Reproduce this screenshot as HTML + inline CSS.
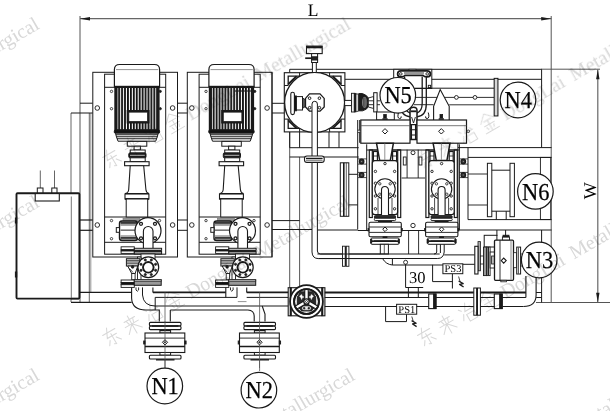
<!DOCTYPE html>
<html><head><meta charset="utf-8"><title>Layout</title>
<style>
html,body{margin:0;padding:0;background:#fff;}
svg{display:block;font-family:"Liberation Serif",serif;text-rendering:geometricPrecision;will-change:transform;}
</style></head><body>
<svg width="610" height="411" viewBox="0 0 610 411">
<defs>
<pattern id="fins" x="115.3" y="0" width="2.93" height="10" patternUnits="userSpaceOnUse"><rect x="0" y="0" width="1.85" height="10" fill="#111"/></pattern>
</defs>
<rect x="0" y="0" width="610" height="411" fill="#fff"/>
<line x1="80" y1="16" x2="80" y2="302" stroke="#555" stroke-width="1"/>
<line x1="551.2" y1="16" x2="551.2" y2="302.5" stroke="#555" stroke-width="1"/>
<line x1="80" y1="18.7" x2="551.5" y2="18.7" stroke="#666" stroke-width="1.2"/>
<path d="M80,18.7 L90,16.9 L90,20.5 Z" fill="#1a1a1a" stroke="#1a1a1a" stroke-width="0" />
<path d="M551.2,18.7 L541.2,16.9 L541.2,20.5 Z" fill="#1a1a1a" stroke="#1a1a1a" stroke-width="0" />
<text x="313" y="16.4" font-size="17.5" text-anchor="middle" opacity="0.99" >L</text>
<line x1="541" y1="69.2" x2="600" y2="69.2" stroke="#555" stroke-width="1"/>
<line x1="536" y1="302.5" x2="610" y2="302.5" stroke="#555" stroke-width="1"/>
<line x1="597.8" y1="69.5" x2="597.8" y2="302.5" stroke="#666" stroke-width="1.2"/>
<path d="M597.8,69.5 L596.1,79.3 L599.5,79.3 Z" fill="#1a1a1a" stroke="#1a1a1a" stroke-width="0" />
<path d="M597.8,302.5 L596.1,292.7 L599.5,292.7 Z" fill="#1a1a1a" stroke="#1a1a1a" stroke-width="0" />
<text transform="translate(596.2,190.8) rotate(-90)" font-size="18" text-anchor="middle">W</text>
<line x1="71" y1="113" x2="71" y2="302" stroke="#555" stroke-width="0.9"/>
<line x1="89.3" y1="113" x2="89.3" y2="302" stroke="#555" stroke-width="0.9"/>
<line x1="90.8" y1="113" x2="90.8" y2="292" stroke="#777" stroke-width="0.8"/>
<line x1="71" y1="113" x2="90.8" y2="113" stroke="#1a1a1a" stroke-width="1"/>
<line x1="80" y1="103.2" x2="92.8" y2="103.2" stroke="#1a1a1a" stroke-width="1"/>
<line x1="90.8" y1="113" x2="92.8" y2="113" stroke="#1a1a1a" stroke-width="1"/>
<line x1="79" y1="220" x2="92.8" y2="220" stroke="#1a1a1a" stroke-width="1.2"/>
<line x1="79" y1="230.3" x2="92.8" y2="230.3" stroke="#1a1a1a" stroke-width="1.2"/>
<line x1="79" y1="292.4" x2="131.6" y2="292.4" stroke="#1a1a1a" stroke-width="1.2"/>
<line x1="71" y1="302.3" x2="131.6" y2="302.3" stroke="#1a1a1a" stroke-width="1.2"/>
<line x1="40.3" y1="170.5" x2="40.3" y2="188" stroke="#555" stroke-width="0.9"/>
<line x1="54.5" y1="170.5" x2="54.5" y2="188" stroke="#555" stroke-width="0.9"/>
<rect x="37.3" y="188" width="5.7" height="5.6" rx="0" fill="#fff" stroke="#1a1a1a" stroke-width="1"/>
<rect x="51.8" y="188" width="5.2" height="5.6" rx="0" fill="#fff" stroke="#1a1a1a" stroke-width="1"/>
<rect x="16.5" y="193.3" width="62.9" height="105.3" rx="1" fill="#fff" stroke="#1a1a1a" stroke-width="1.9"/>
<line x1="71.3" y1="196.5" x2="71.3" y2="298" stroke="#666" stroke-width="0.9"/>
<rect x="35.2" y="193.6" width="24.1" height="7.4" rx="0" fill="#fff" stroke="#1a1a1a" stroke-width="1.1"/>
<rect x="15.4" y="218" width="1.3" height="5" rx="0" fill="#1a1a1a" stroke="#1a1a1a" stroke-width="1"/>
<rect x="15.4" y="272" width="1.3" height="5" rx="0" fill="#1a1a1a" stroke="#1a1a1a" stroke-width="1"/>
<line x1="71" y1="298.6" x2="79" y2="298.6" stroke="#1a1a1a" stroke-width="1.4"/>
<g transform="translate(0,0)">
<rect x="92.8" y="72.3" width="84.7" height="184.7" rx="0" fill="#fff" stroke="#1a1a1a" stroke-width="1"/>
<rect x="104.6" y="74.2" width="61.1" height="180.0" rx="0" fill="#fff" stroke="#1a1a1a" stroke-width="1"/>
<line x1="104.6" y1="217" x2="165.7" y2="217" stroke="#1a1a1a" stroke-width="1"/>
<line x1="104.6" y1="242.3" x2="165.7" y2="242.3" stroke="#1a1a1a" stroke-width="1"/>
<circle cx="97.3" cy="108" r="2.3" fill="#fff" stroke="#1a1a1a" stroke-width="0.9"/>
<circle cx="172.6" cy="108" r="2.3" fill="#fff" stroke="#1a1a1a" stroke-width="0.9"/>
<circle cx="97.3" cy="225" r="2.3" fill="#fff" stroke="#1a1a1a" stroke-width="0.9"/>
<circle cx="172.6" cy="225" r="2.3" fill="#fff" stroke="#1a1a1a" stroke-width="0.9"/>
<circle cx="111.5" cy="91.4" r="1.2" fill="#fff" stroke="#1a1a1a" stroke-width="0.8"/>
<circle cx="111.5" cy="108.7" r="1.2" fill="#fff" stroke="#1a1a1a" stroke-width="0.8"/>
<circle cx="111.5" cy="220.6" r="1.2" fill="#fff" stroke="#1a1a1a" stroke-width="0.8"/>
<circle cx="111.5" cy="238.7" r="1.2" fill="#fff" stroke="#1a1a1a" stroke-width="0.8"/>
<circle cx="159.5" cy="220.6" r="1.2" fill="#fff" stroke="#1a1a1a" stroke-width="0.8"/>
<path d="M114.4,86.5 V69.5 Q114.4,64.5 119.6,64.5 H154.4 Q159.6,64.5 159.6,69.5 V86.5 Z" fill="#fff" stroke="#1a1a1a" stroke-width="1.2" />
<line x1="116" y1="69.6" x2="158.3" y2="69.6" stroke="#777" stroke-width="0.8"/>
<line x1="104.6" y1="87.3" x2="115" y2="87.3" stroke="#1a1a1a" stroke-width="1"/>
<line x1="158.9" y1="87.3" x2="165.7" y2="87.3" stroke="#1a1a1a" stroke-width="1"/>
<rect x="115" y="86.5" width="43.9" height="43.5" rx="0" fill="#fff" stroke="none" stroke-width="0"/>
<rect x="115" y="86.5" width="43.9" height="43.5" fill="url(#fins)"/>
<rect x="115" y="86.5" width="43.9" height="43.5" rx="0" fill="none" stroke="#1a1a1a" stroke-width="1.4"/>
<line x1="114.5" y1="87.2" x2="159.8" y2="87.2" stroke="#1a1a1a" stroke-width="1.8"/>
<rect x="115" y="86.5" width="2.4" height="43.5" rx="0" fill="#1a1a1a" stroke="none" stroke-width="0"/>
<rect x="156.5" y="86.5" width="2.4" height="43.5" rx="0" fill="#1a1a1a" stroke="none" stroke-width="0"/>
<circle cx="160.3" cy="91.4" r="1.1" fill="#1a1a1a" stroke="#1a1a1a" stroke-width="0.8"/>
<circle cx="160.3" cy="108.7" r="1.1" fill="#1a1a1a" stroke="#1a1a1a" stroke-width="0.8"/>
<rect x="126.7" y="110" width="22.8" height="13.5" rx="0" fill="#1a1a1a" stroke="none" stroke-width="0"/>
<rect x="128.9" y="112.2" width="18.4" height="9.1" rx="0" fill="#fff" stroke="#1a1a1a" stroke-width="0.6"/>
<rect x="114.3" y="130" width="45.3" height="3.2" rx="1" fill="#111" stroke="#1a1a1a" stroke-width="1"/>
<path d="M115.5,133.2 L116.5,137 L118,141.2 H155.7 L157.2,137 L158.3,133.2 Z" fill="#fff" stroke="#1a1a1a" stroke-width="1" />
<line x1="115.8" y1="134.8" x2="158" y2="134.8" stroke="#1a1a1a" stroke-width="1.1"/>
<line x1="116.4" y1="136.8" x2="157.4" y2="136.8" stroke="#1a1a1a" stroke-width="1.1"/>
<line x1="117" y1="138.8" x2="156.8" y2="138.8" stroke="#1a1a1a" stroke-width="1.1"/>
<rect x="127.3" y="141.4" width="19.5" height="4.8" rx="0" fill="#fff" stroke="#1a1a1a" stroke-width="1"/>
<rect x="134.1" y="146.2" width="6.3" height="3.8" rx="0" fill="#fff" stroke="#1a1a1a" stroke-width="1"/>
<rect x="130.2" y="150" width="15.0" height="3" rx="0" fill="#fff" stroke="#1a1a1a" stroke-width="1"/>
<rect x="128.8" y="153" width="17.2" height="4.8" rx="1" fill="#1a1a1a" stroke="#1a1a1a" stroke-width="1"/>
<line x1="130" y1="155.3" x2="144.8" y2="155.3" stroke="#ddd" stroke-width="0.8"/>
<rect x="130.2" y="157.8" width="15.0" height="3.7" rx="0" fill="#fff" stroke="#1a1a1a" stroke-width="1"/>
<rect x="124.6" y="161.7" width="24.5" height="4.0" rx="0" fill="#fff" stroke="#1a1a1a" stroke-width="1.1"/>
<path d="M130.2,165.7 L128.7,189.5 Q128.4,193 125,193.6 H148.9 Q146.2,193 145.9,189.5 L143.7,165.7 Z" fill="#fff" stroke="#1a1a1a" stroke-width="1.1" />
<rect x="125" y="194" width="23.9" height="5" rx="0" fill="#fff" stroke="#1a1a1a" stroke-width="1.1"/>
<line x1="125" y1="199" x2="148.9" y2="199" stroke="#1a1a1a" stroke-width="1.6"/>
<rect x="126.2" y="199" width="21.5" height="18" rx="0" fill="#fff" stroke="#1a1a1a" stroke-width="1"/>
<rect x="123" y="218.2" width="17" height="2.6" rx="0" fill="#999" stroke="#777" stroke-width="0.6"/>
<rect x="119.5" y="221" width="18.0" height="19.5" rx="2.5" fill="#fff" stroke="#1a1a1a" stroke-width="1.4"/>
<line x1="120.5" y1="222.3" x2="137.5" y2="222.3" stroke="#222" stroke-width="1.2"/>
<line x1="120.5" y1="223.8" x2="137.5" y2="223.8" stroke="#222" stroke-width="1.2"/>
<line x1="120.5" y1="237.3" x2="137.5" y2="237.3" stroke="#222" stroke-width="1.2"/>
<line x1="120.5" y1="238.8" x2="137.5" y2="238.8" stroke="#222" stroke-width="1.2"/>
<line x1="120.5" y1="225.3" x2="137.5" y2="225.3" stroke="#777" stroke-width="0.8"/>
<line x1="120.5" y1="235.8" x2="137.5" y2="235.8" stroke="#777" stroke-width="0.8"/>
<line x1="120.5" y1="230.2" x2="137.5" y2="230.2" stroke="#777" stroke-width="1.6"/>
<rect x="116.3" y="227.6" width="3.2" height="4.7" rx="0" fill="#fff" stroke="#1a1a1a" stroke-width="1"/>
<circle cx="148" cy="230.7" r="13" fill="#fff" stroke="#1a1a1a" stroke-width="1.2"/>
<circle cx="141" cy="223.8" r="1.5" fill="#fff" stroke="#1a1a1a" stroke-width="1.3"/>
<circle cx="155" cy="223.8" r="1.5" fill="#fff" stroke="#1a1a1a" stroke-width="1.3"/>
<circle cx="141" cy="238.3" r="1.5" fill="#fff" stroke="#1a1a1a" stroke-width="1.3"/>
<circle cx="155" cy="238.3" r="1.5" fill="#fff" stroke="#1a1a1a" stroke-width="1.3"/>
<path d="M143.4,248.2 V231.3 A4.8,4.8 0 0 1 153,231.3 V248.2" fill="#fff" stroke="#1a1a1a" stroke-width="1.1" />
<rect x="121.1" y="246.8" width="13.2" height="3.0" rx="0" fill="#fff" stroke="#1a1a1a" stroke-width="0.9"/>
<rect x="121.1" y="249.8" width="13.2" height="1.2" rx="0" fill="#111" stroke="#1a1a1a" stroke-width="0.9"/>
<rect x="121.1" y="251" width="13.2" height="2.4" rx="0" fill="#fff" stroke="#1a1a1a" stroke-width="0.9"/>
<rect x="134.3" y="248.3" width="27.3" height="1.9" rx="0" fill="#fff" stroke="#1a1a1a" stroke-width="1"/>
<rect x="134.3" y="251.4" width="27.3" height="2.6" rx="0" fill="#999" stroke="#1a1a1a" stroke-width="1"/>
<line x1="134.3" y1="250.8" x2="161.6" y2="250.8" stroke="#1a1a1a" stroke-width="1.4"/>
<rect x="141" y="254" width="14" height="5" rx="0" fill="#fff" stroke="#1a1a1a" stroke-width="0.9"/>
<rect x="137.5" y="257" width="3.5" height="23" rx="0" fill="#fff" stroke="#1a1a1a" stroke-width="0.9"/>
<rect x="126.4" y="258.7" width="13.4" height="7.3" rx="0" fill="#fff" stroke="#1a1a1a" stroke-width="1"/>
<path d="M126.4,260.3 H139.8 M126.4,262 H139.8 M126.4,263.8 H139.8" fill="none" stroke="#333" stroke-width="1" />
<path d="M127.7,266 L131.7,273.5 H135.1 L137.8,266 Z" fill="#fff" stroke="#1a1a1a" stroke-width="1" />
<rect x="131.7" y="273.5" width="3.4" height="6.3" rx="0" fill="#fff" stroke="#1a1a1a" stroke-width="0.9"/>
<circle cx="132.6" cy="266.9" r="1.3" fill="#222" stroke="#1a1a1a" stroke-width="0.8"/>
<path d="M129.5,268.5 L133,272.5" fill="none" stroke="#1a1a1a" stroke-width="0.8" />
<circle cx="148.3" cy="267.3" r="10.4" fill="#fff" stroke="#1a1a1a" stroke-width="1.2"/>
<circle cx="148.3" cy="267.3" r="5.3" fill="#fff" stroke="#1a1a1a" stroke-width="1.9"/>
<circle cx="155.6" cy="270.32" r="1.1" fill="#222" stroke="#1a1a1a" stroke-width="0.8"/>
<circle cx="151.32" cy="274.6" r="1.1" fill="#222" stroke="#1a1a1a" stroke-width="0.8"/>
<circle cx="145.28" cy="274.6" r="1.1" fill="#222" stroke="#1a1a1a" stroke-width="0.8"/>
<circle cx="141.0" cy="270.32" r="1.1" fill="#222" stroke="#1a1a1a" stroke-width="0.8"/>
<circle cx="141.0" cy="264.28" r="1.1" fill="#222" stroke="#1a1a1a" stroke-width="0.8"/>
<circle cx="145.28" cy="260.0" r="1.1" fill="#222" stroke="#1a1a1a" stroke-width="0.8"/>
<circle cx="151.32" cy="260.0" r="1.1" fill="#222" stroke="#1a1a1a" stroke-width="0.8"/>
<circle cx="155.6" cy="264.28" r="1.1" fill="#222" stroke="#1a1a1a" stroke-width="0.8"/>
<rect x="121.1" y="280" width="13.2" height="2.6" rx="0" fill="#fff" stroke="#1a1a1a" stroke-width="0.9"/>
<rect x="121.1" y="282.6" width="13.2" height="2.1" rx="0" fill="#111" stroke="#1a1a1a" stroke-width="0.9"/>
<rect x="121.1" y="284.7" width="13.2" height="2.7" rx="0" fill="#fff" stroke="#1a1a1a" stroke-width="0.9"/>
<rect x="134.3" y="279.8" width="26.9" height="5.5" rx="0" fill="#999" stroke="#1a1a1a" stroke-width="1"/>
<rect x="134.3" y="279.8" width="26.9" height="1.4" rx="0" fill="#fff" stroke="#1a1a1a" stroke-width="0.8"/>
</g>
<g transform="translate(94.5,0)">
<rect x="92.8" y="72.3" width="84.7" height="184.7" rx="0" fill="#fff" stroke="#1a1a1a" stroke-width="1"/>
<rect x="104.6" y="74.2" width="61.1" height="180.0" rx="0" fill="#fff" stroke="#1a1a1a" stroke-width="1"/>
<line x1="104.6" y1="217" x2="165.7" y2="217" stroke="#1a1a1a" stroke-width="1"/>
<line x1="104.6" y1="242.3" x2="165.7" y2="242.3" stroke="#1a1a1a" stroke-width="1"/>
<circle cx="97.3" cy="108" r="2.3" fill="#fff" stroke="#1a1a1a" stroke-width="0.9"/>
<circle cx="172.6" cy="108" r="2.3" fill="#fff" stroke="#1a1a1a" stroke-width="0.9"/>
<circle cx="97.3" cy="225" r="2.3" fill="#fff" stroke="#1a1a1a" stroke-width="0.9"/>
<circle cx="172.6" cy="225" r="2.3" fill="#fff" stroke="#1a1a1a" stroke-width="0.9"/>
<circle cx="111.5" cy="91.4" r="1.2" fill="#fff" stroke="#1a1a1a" stroke-width="0.8"/>
<circle cx="111.5" cy="108.7" r="1.2" fill="#fff" stroke="#1a1a1a" stroke-width="0.8"/>
<circle cx="111.5" cy="220.6" r="1.2" fill="#fff" stroke="#1a1a1a" stroke-width="0.8"/>
<circle cx="111.5" cy="238.7" r="1.2" fill="#fff" stroke="#1a1a1a" stroke-width="0.8"/>
<circle cx="159.5" cy="220.6" r="1.2" fill="#fff" stroke="#1a1a1a" stroke-width="0.8"/>
<path d="M114.4,86.5 V69.5 Q114.4,64.5 119.6,64.5 H154.4 Q159.6,64.5 159.6,69.5 V86.5 Z" fill="#fff" stroke="#1a1a1a" stroke-width="1.2" />
<line x1="116" y1="69.6" x2="158.3" y2="69.6" stroke="#777" stroke-width="0.8"/>
<line x1="104.6" y1="87.3" x2="115" y2="87.3" stroke="#1a1a1a" stroke-width="1"/>
<line x1="158.9" y1="87.3" x2="165.7" y2="87.3" stroke="#1a1a1a" stroke-width="1"/>
<rect x="115" y="86.5" width="43.9" height="43.5" rx="0" fill="#fff" stroke="none" stroke-width="0"/>
<rect x="115" y="86.5" width="43.9" height="43.5" fill="url(#fins)"/>
<rect x="115" y="86.5" width="43.9" height="43.5" rx="0" fill="none" stroke="#1a1a1a" stroke-width="1.4"/>
<line x1="114.5" y1="87.2" x2="159.8" y2="87.2" stroke="#1a1a1a" stroke-width="1.8"/>
<rect x="115" y="86.5" width="2.4" height="43.5" rx="0" fill="#1a1a1a" stroke="none" stroke-width="0"/>
<rect x="156.5" y="86.5" width="2.4" height="43.5" rx="0" fill="#1a1a1a" stroke="none" stroke-width="0"/>
<circle cx="160.3" cy="91.4" r="1.1" fill="#1a1a1a" stroke="#1a1a1a" stroke-width="0.8"/>
<circle cx="160.3" cy="108.7" r="1.1" fill="#1a1a1a" stroke="#1a1a1a" stroke-width="0.8"/>
<rect x="126.7" y="110" width="22.8" height="13.5" rx="0" fill="#1a1a1a" stroke="none" stroke-width="0"/>
<rect x="128.9" y="112.2" width="18.4" height="9.1" rx="0" fill="#fff" stroke="#1a1a1a" stroke-width="0.6"/>
<rect x="114.3" y="130" width="45.3" height="3.2" rx="1" fill="#111" stroke="#1a1a1a" stroke-width="1"/>
<path d="M115.5,133.2 L116.5,137 L118,141.2 H155.7 L157.2,137 L158.3,133.2 Z" fill="#fff" stroke="#1a1a1a" stroke-width="1" />
<line x1="115.8" y1="134.8" x2="158" y2="134.8" stroke="#1a1a1a" stroke-width="1.1"/>
<line x1="116.4" y1="136.8" x2="157.4" y2="136.8" stroke="#1a1a1a" stroke-width="1.1"/>
<line x1="117" y1="138.8" x2="156.8" y2="138.8" stroke="#1a1a1a" stroke-width="1.1"/>
<rect x="127.3" y="141.4" width="19.5" height="4.8" rx="0" fill="#fff" stroke="#1a1a1a" stroke-width="1"/>
<rect x="134.1" y="146.2" width="6.3" height="3.8" rx="0" fill="#fff" stroke="#1a1a1a" stroke-width="1"/>
<rect x="130.2" y="150" width="15.0" height="3" rx="0" fill="#fff" stroke="#1a1a1a" stroke-width="1"/>
<rect x="128.8" y="153" width="17.2" height="4.8" rx="1" fill="#1a1a1a" stroke="#1a1a1a" stroke-width="1"/>
<line x1="130" y1="155.3" x2="144.8" y2="155.3" stroke="#ddd" stroke-width="0.8"/>
<rect x="130.2" y="157.8" width="15.0" height="3.7" rx="0" fill="#fff" stroke="#1a1a1a" stroke-width="1"/>
<rect x="124.6" y="161.7" width="24.5" height="4.0" rx="0" fill="#fff" stroke="#1a1a1a" stroke-width="1.1"/>
<path d="M130.2,165.7 L128.7,189.5 Q128.4,193 125,193.6 H148.9 Q146.2,193 145.9,189.5 L143.7,165.7 Z" fill="#fff" stroke="#1a1a1a" stroke-width="1.1" />
<rect x="125" y="194" width="23.9" height="5" rx="0" fill="#fff" stroke="#1a1a1a" stroke-width="1.1"/>
<line x1="125" y1="199" x2="148.9" y2="199" stroke="#1a1a1a" stroke-width="1.6"/>
<rect x="126.2" y="199" width="21.5" height="18" rx="0" fill="#fff" stroke="#1a1a1a" stroke-width="1"/>
<rect x="123" y="218.2" width="17" height="2.6" rx="0" fill="#999" stroke="#777" stroke-width="0.6"/>
<rect x="119.5" y="221" width="18.0" height="19.5" rx="2.5" fill="#fff" stroke="#1a1a1a" stroke-width="1.4"/>
<line x1="120.5" y1="222.3" x2="137.5" y2="222.3" stroke="#222" stroke-width="1.2"/>
<line x1="120.5" y1="223.8" x2="137.5" y2="223.8" stroke="#222" stroke-width="1.2"/>
<line x1="120.5" y1="237.3" x2="137.5" y2="237.3" stroke="#222" stroke-width="1.2"/>
<line x1="120.5" y1="238.8" x2="137.5" y2="238.8" stroke="#222" stroke-width="1.2"/>
<line x1="120.5" y1="225.3" x2="137.5" y2="225.3" stroke="#777" stroke-width="0.8"/>
<line x1="120.5" y1="235.8" x2="137.5" y2="235.8" stroke="#777" stroke-width="0.8"/>
<line x1="120.5" y1="230.2" x2="137.5" y2="230.2" stroke="#777" stroke-width="1.6"/>
<rect x="116.3" y="227.6" width="3.2" height="4.7" rx="0" fill="#fff" stroke="#1a1a1a" stroke-width="1"/>
<circle cx="148" cy="230.7" r="13" fill="#fff" stroke="#1a1a1a" stroke-width="1.2"/>
<circle cx="141" cy="223.8" r="1.5" fill="#fff" stroke="#1a1a1a" stroke-width="1.3"/>
<circle cx="155" cy="223.8" r="1.5" fill="#fff" stroke="#1a1a1a" stroke-width="1.3"/>
<circle cx="141" cy="238.3" r="1.5" fill="#fff" stroke="#1a1a1a" stroke-width="1.3"/>
<circle cx="155" cy="238.3" r="1.5" fill="#fff" stroke="#1a1a1a" stroke-width="1.3"/>
<path d="M143.4,248.2 V231.3 A4.8,4.8 0 0 1 153,231.3 V248.2" fill="#fff" stroke="#1a1a1a" stroke-width="1.1" />
<rect x="121.1" y="246.8" width="13.2" height="3.0" rx="0" fill="#fff" stroke="#1a1a1a" stroke-width="0.9"/>
<rect x="121.1" y="249.8" width="13.2" height="1.2" rx="0" fill="#111" stroke="#1a1a1a" stroke-width="0.9"/>
<rect x="121.1" y="251" width="13.2" height="2.4" rx="0" fill="#fff" stroke="#1a1a1a" stroke-width="0.9"/>
<rect x="134.3" y="248.3" width="27.3" height="1.9" rx="0" fill="#fff" stroke="#1a1a1a" stroke-width="1"/>
<rect x="134.3" y="251.4" width="27.3" height="2.6" rx="0" fill="#999" stroke="#1a1a1a" stroke-width="1"/>
<line x1="134.3" y1="250.8" x2="161.6" y2="250.8" stroke="#1a1a1a" stroke-width="1.4"/>
<rect x="141" y="254" width="14" height="5" rx="0" fill="#fff" stroke="#1a1a1a" stroke-width="0.9"/>
<rect x="137.5" y="257" width="3.5" height="23" rx="0" fill="#fff" stroke="#1a1a1a" stroke-width="0.9"/>
<rect x="126.4" y="258.7" width="13.4" height="7.3" rx="0" fill="#fff" stroke="#1a1a1a" stroke-width="1"/>
<path d="M126.4,260.3 H139.8 M126.4,262 H139.8 M126.4,263.8 H139.8" fill="none" stroke="#333" stroke-width="1" />
<path d="M127.7,266 L131.7,273.5 H135.1 L137.8,266 Z" fill="#fff" stroke="#1a1a1a" stroke-width="1" />
<rect x="131.7" y="273.5" width="3.4" height="6.3" rx="0" fill="#fff" stroke="#1a1a1a" stroke-width="0.9"/>
<circle cx="132.6" cy="266.9" r="1.3" fill="#222" stroke="#1a1a1a" stroke-width="0.8"/>
<path d="M129.5,268.5 L133,272.5" fill="none" stroke="#1a1a1a" stroke-width="0.8" />
<circle cx="148.3" cy="267.3" r="10.4" fill="#fff" stroke="#1a1a1a" stroke-width="1.2"/>
<circle cx="148.3" cy="267.3" r="5.3" fill="#fff" stroke="#1a1a1a" stroke-width="1.9"/>
<circle cx="155.6" cy="270.32" r="1.1" fill="#222" stroke="#1a1a1a" stroke-width="0.8"/>
<circle cx="151.32" cy="274.6" r="1.1" fill="#222" stroke="#1a1a1a" stroke-width="0.8"/>
<circle cx="145.28" cy="274.6" r="1.1" fill="#222" stroke="#1a1a1a" stroke-width="0.8"/>
<circle cx="141.0" cy="270.32" r="1.1" fill="#222" stroke="#1a1a1a" stroke-width="0.8"/>
<circle cx="141.0" cy="264.28" r="1.1" fill="#222" stroke="#1a1a1a" stroke-width="0.8"/>
<circle cx="145.28" cy="260.0" r="1.1" fill="#222" stroke="#1a1a1a" stroke-width="0.8"/>
<circle cx="151.32" cy="260.0" r="1.1" fill="#222" stroke="#1a1a1a" stroke-width="0.8"/>
<circle cx="155.6" cy="264.28" r="1.1" fill="#222" stroke="#1a1a1a" stroke-width="0.8"/>
<rect x="121.1" y="280" width="13.2" height="2.6" rx="0" fill="#fff" stroke="#1a1a1a" stroke-width="0.9"/>
<rect x="121.1" y="282.6" width="13.2" height="2.1" rx="0" fill="#111" stroke="#1a1a1a" stroke-width="0.9"/>
<rect x="121.1" y="284.7" width="13.2" height="2.7" rx="0" fill="#fff" stroke="#1a1a1a" stroke-width="0.9"/>
<rect x="134.3" y="279.8" width="26.9" height="5.5" rx="0" fill="#999" stroke="#1a1a1a" stroke-width="1"/>
<rect x="134.3" y="279.8" width="26.9" height="1.4" rx="0" fill="#fff" stroke="#1a1a1a" stroke-width="0.8"/>
</g>
<line x1="234.7" y1="91" x2="254.2" y2="91" stroke="#1a1a1a" stroke-width="1.1"/>
<line x1="177.5" y1="103.2" x2="187.3" y2="103.2" stroke="#1a1a1a" stroke-width="1"/>
<line x1="177.5" y1="113" x2="187.3" y2="113" stroke="#1a1a1a" stroke-width="1"/>
<line x1="177.5" y1="220" x2="187.3" y2="220" stroke="#1a1a1a" stroke-width="1"/>
<line x1="177.5" y1="230.3" x2="187.3" y2="230.3" stroke="#1a1a1a" stroke-width="1"/>
<line x1="272" y1="72.3" x2="272" y2="257" stroke="#1a1a1a" stroke-width="1"/>
<path d="M131.6,287.4 V298 Q132,310 146,310 H159.3 V321.5" fill="none" stroke="#1a1a1a" stroke-width="1.1" />
<path d="M142.5,287.4 V295 Q143.5,306 155.2,306" fill="none" stroke="#1a1a1a" stroke-width="1" />
<line x1="155.2" y1="297.4" x2="155.2" y2="310" stroke="#1a1a1a" stroke-width="1"/>
<path d="M152.9,287.4 V292.4" fill="none" stroke="#1a1a1a" stroke-width="1.1" />
<path d="M136,287.4 V290 Q137.3,292.5 138.6,290 V287.4" fill="none" stroke="#1a1a1a" stroke-width="0.9" />
<path d="M230.5,287.4 V290 Q231.8,292.5 233.1,290 V287.4" fill="none" stroke="#1a1a1a" stroke-width="0.9" />
<line x1="152.9" y1="292.4" x2="225.8" y2="292.4" stroke="#1a1a1a" stroke-width="1.6"/>
<line x1="155.2" y1="297.4" x2="237" y2="297.4" stroke="#1a1a1a" stroke-width="1"/>
<line x1="155.2" y1="306" x2="288.7" y2="306" stroke="#1a1a1a" stroke-width="1"/>
<line x1="170.3" y1="310" x2="247.9" y2="310" stroke="#1a1a1a" stroke-width="1.1"/>
<line x1="170.3" y1="310" x2="170.3" y2="321.5" stroke="#1a1a1a" stroke-width="1.1"/>
<line x1="225.8" y1="287.4" x2="225.8" y2="297.4" stroke="#1a1a1a" stroke-width="1.1"/>
<line x1="237" y1="287.4" x2="237" y2="297.4" stroke="#1a1a1a" stroke-width="1"/>
<path d="M246.7,287.4 V292.4" fill="none" stroke="#1a1a1a" stroke-width="1.1" />
<line x1="237.8" y1="301.6" x2="246.5" y2="301.6" stroke="#777" stroke-width="0.8"/>
<line x1="246.7" y1="292.4" x2="288.7" y2="292.4" stroke="#1a1a1a" stroke-width="1.6"/>
<line x1="246.7" y1="297.4" x2="288.7" y2="297.4" stroke="#1a1a1a" stroke-width="1"/>
<path d="M247.9,310 Q254.2,310.5 254.2,316 V321.5" fill="none" stroke="#1a1a1a" stroke-width="1.1" />
<path d="M262.2,306 L265,314 V321.5" fill="none" stroke="#1a1a1a" stroke-width="1.1" />
<line x1="165" y1="292.4" x2="165" y2="368" stroke="#555" stroke-width="0.8"/>
<line x1="259.6" y1="292.4" x2="259.6" y2="371" stroke="#555" stroke-width="0.8"/>
<rect x="149.4" y="322.4" width="31.6" height="3.3" rx="1" fill="#fff" stroke="#1a1a1a" stroke-width="1.1"/>
<rect x="149.4" y="326.3" width="31.6" height="3.3" rx="1" fill="#fff" stroke="#1a1a1a" stroke-width="1.1"/>
<line x1="152" y1="326" x2="178.4" y2="326" stroke="#1a1a1a" stroke-width="1.5"/>
<rect x="159.9" y="329.6" width="10.7" height="3.4" rx="0" fill="#fff" stroke="#1a1a1a" stroke-width="1"/>
<line x1="159.9" y1="330.6" x2="170.6" y2="330.6" stroke="#1a1a1a" stroke-width="1.2"/>
<rect x="145" y="333" width="39.8" height="19.5" rx="0" fill="#fff" stroke="#1a1a1a" stroke-width="1.1"/>
<line x1="145" y1="338.1" x2="184.8" y2="338.1" stroke="#1a1a1a" stroke-width="0.9"/>
<line x1="145" y1="346.4" x2="184.8" y2="346.4" stroke="#1a1a1a" stroke-width="1.5"/>
<rect x="143.7" y="341" width="1.3" height="3" rx="0" fill="#1a1a1a" stroke="#1a1a1a" stroke-width="0.9"/>
<rect x="184.8" y="341" width="1.3" height="3" rx="0" fill="#1a1a1a" stroke="#1a1a1a" stroke-width="0.9"/>
<rect x="159.9" y="352.5" width="10.7" height="2.7" rx="0" fill="#fff" stroke="#1a1a1a" stroke-width="1"/>
<rect x="149.4" y="355.2" width="31.6" height="3.8" rx="1" fill="#fff" stroke="#1a1a1a" stroke-width="1.1"/>
<line x1="156" y1="359.8" x2="174.5" y2="359.8" stroke="#1a1a1a" stroke-width="1.4"/>
<line x1="165" y1="321.5" x2="165" y2="368" stroke="#555" stroke-width="0.8"/>
<path d="M162.4,342.3 L165,339.7 L167.6,342.3 L165,344.90000000000003 Z" fill="#fff" stroke="#1a1a1a" stroke-width="1" />
<circle cx="165" cy="342.3" r="0.8" fill="#1a1a1a" stroke="#1a1a1a" stroke-width="0.5"/>
<rect x="243.9" y="322.4" width="31.6" height="3.3" rx="1" fill="#fff" stroke="#1a1a1a" stroke-width="1.1"/>
<rect x="243.9" y="326.3" width="31.6" height="3.3" rx="1" fill="#fff" stroke="#1a1a1a" stroke-width="1.1"/>
<line x1="246.5" y1="326" x2="272.9" y2="326" stroke="#1a1a1a" stroke-width="1.5"/>
<rect x="254.4" y="329.6" width="10.7" height="3.4" rx="0" fill="#fff" stroke="#1a1a1a" stroke-width="1"/>
<line x1="254.4" y1="330.6" x2="265.1" y2="330.6" stroke="#1a1a1a" stroke-width="1.2"/>
<rect x="239.5" y="333" width="39.8" height="19.5" rx="0" fill="#fff" stroke="#1a1a1a" stroke-width="1.1"/>
<line x1="239.5" y1="338.1" x2="279.3" y2="338.1" stroke="#1a1a1a" stroke-width="0.9"/>
<line x1="239.5" y1="346.4" x2="279.3" y2="346.4" stroke="#1a1a1a" stroke-width="1.5"/>
<rect x="238.2" y="341" width="1.3" height="3" rx="0" fill="#1a1a1a" stroke="#1a1a1a" stroke-width="0.9"/>
<rect x="279.3" y="341" width="1.3" height="3" rx="0" fill="#1a1a1a" stroke="#1a1a1a" stroke-width="0.9"/>
<rect x="254.4" y="352.5" width="10.7" height="2.7" rx="0" fill="#fff" stroke="#1a1a1a" stroke-width="1"/>
<rect x="243.9" y="355.2" width="31.6" height="3.8" rx="1" fill="#fff" stroke="#1a1a1a" stroke-width="1.1"/>
<line x1="250.5" y1="359.8" x2="269.0" y2="359.8" stroke="#1a1a1a" stroke-width="1.4"/>
<line x1="259.5" y1="321.5" x2="259.5" y2="368" stroke="#555" stroke-width="0.8"/>
<path d="M256.9,342.3 L259.5,339.7 L262.1,342.3 L259.5,344.90000000000003 Z" fill="#fff" stroke="#1a1a1a" stroke-width="1" />
<circle cx="259.5" cy="342.3" r="0.8" fill="#1a1a1a" stroke="#1a1a1a" stroke-width="0.5"/>
<circle cx="164.8" cy="386" r="17.8" fill="#fff" stroke="#1a1a1a" stroke-width="1.2"/>
<text x="165.10000000000002" y="394.1" font-size="24.3" text-anchor="middle" opacity="0.99" textLength="27.4" lengthAdjust="spacingAndGlyphs" stroke="#000" stroke-width="0.25">N1</text>
<circle cx="258.9" cy="390.2" r="17.8" fill="#fff" stroke="#1a1a1a" stroke-width="1.2"/>
<text x="259.2" y="398.3" font-size="24.3" text-anchor="middle" opacity="0.99" textLength="27.4" lengthAdjust="spacingAndGlyphs" stroke="#000" stroke-width="0.25">N2</text>
<line x1="289.7" y1="131.9" x2="289.7" y2="287.7" stroke="#444" stroke-width="0.9"/>
<line x1="299.6" y1="157" x2="299.6" y2="287.7" stroke="#444" stroke-width="0.9"/>
<rect x="288.2" y="287.7" width="36.7" height="28.1" rx="0" fill="#fff" stroke="#1a1a1a" stroke-width="1.1"/>
<rect x="290" y="287.7" width="1.6" height="28.1" rx="0" fill="#1a1a1a" stroke="#1a1a1a" stroke-width="0.6"/>
<rect x="321.4" y="287.7" width="1.6" height="28.1" rx="0" fill="#1a1a1a" stroke="#1a1a1a" stroke-width="0.6"/>
<circle cx="306.5" cy="301.5" r="16.4" fill="#fff" stroke="#1a1a1a" stroke-width="1.7"/>
<circle cx="306.5" cy="301.5" r="12.4" fill="#fff" stroke="#1a1a1a" stroke-width="1.9"/>
<path d="M297.3,297 L300.5,291.8 H312.5 L315.7,297 V305.5 L311.5,311 H301.5 L297.3,305.5 Z" fill="#2a2a2a" stroke="#1a1a1a" stroke-width="0.9" />
<path d="M299.5,296.2 L301.6,294.4 L302.3,296.2 L304.2,297 L302.3,297.8 L301.6,299.6 L300.9,297.8 Z" fill="#fff" stroke="#fff" stroke-width="0.4" />
<path d="M313.5,296.2 L311.4,294.4 L310.7,296.2 L308.8,297 L310.7,297.8 L311.4,299.6 L312.1,297.8 Z" fill="#fff" stroke="#fff" stroke-width="0.4" />
<path d="M302.3,308.2 Q302.3,306.6 304,306.6 H309 Q310.7,306.6 310.7,308.2 Q310.7,309.8 309,309.8 H304 Q302.3,309.8 302.3,308.2 Z" fill="#eee" stroke="#eee" stroke-width="0.5" />
<circle cx="304.2" cy="308.2" r="0.9" fill="#2a2a2a" stroke="#1a1a1a" stroke-width="0.6"/>
<circle cx="308.8" cy="308.2" r="0.9" fill="#2a2a2a" stroke="#1a1a1a" stroke-width="0.6"/>
<path d="M306.5,301.5 V289.6 M306.5,301.5 L296.2,307.5 M306.5,301.5 L316.8,307.5" fill="none" stroke="#1a1a1a" stroke-width="4.4" />
<path d="M306.5,301.5 V289.6 M306.5,301.5 L296.2,307.5 M306.5,301.5 L316.8,307.5" fill="none" stroke="#fff" stroke-width="2.4" />
<circle cx="306.5" cy="301.5" r="2.7" fill="#fff" stroke="#1a1a1a" stroke-width="1.3"/>
<circle cx="306.5" cy="301.5" r="1" fill="#fff" stroke="#1a1a1a" stroke-width="0.8"/>
<circle cx="306.5" cy="301.5" r="12.4" fill="none" stroke="#1a1a1a" stroke-width="1.9"/>
<line x1="324.8" y1="292.5" x2="525.9" y2="292.5" stroke="#1a1a1a" stroke-width="1.8"/>
<line x1="324.8" y1="297.5" x2="525.9" y2="297.5" stroke="#1a1a1a" stroke-width="1"/>
<line x1="324.8" y1="306.5" x2="523.5" y2="306.5" stroke="#1a1a1a" stroke-width="1.1"/>
<path d="M523.5,306.5 Q536,306.5 536.1,295 V276" fill="none" stroke="#1a1a1a" stroke-width="1.1" />
<line x1="525.9" y1="276" x2="525.9" y2="297.5" stroke="#1a1a1a" stroke-width="1.1"/>
<line x1="536.1" y1="297.5" x2="541.6" y2="297.5" stroke="#1a1a1a" stroke-width="1"/>
<line x1="536.1" y1="292.5" x2="541.6" y2="292.5" stroke="#1a1a1a" stroke-width="1"/>
<rect x="428.7" y="294" width="7.3" height="14.6" rx="0" fill="#fff" stroke="#1a1a1a" stroke-width="1.1"/>
<rect x="433.4" y="294" width="2.6" height="14.6" rx="0" fill="#1a1a1a" stroke="#1a1a1a" stroke-width="0.8"/>
<rect x="494.3" y="294" width="7.9" height="14.6" rx="0" fill="#fff" stroke="#1a1a1a" stroke-width="1.1"/>
<rect x="499.6" y="294" width="2.6" height="14.6" rx="0" fill="#1a1a1a" stroke="#1a1a1a" stroke-width="0.8"/>
<rect x="473.8" y="288" width="2.9" height="27.2" rx="0" fill="#fff" stroke="#1a1a1a" stroke-width="1"/>
<rect x="477.5" y="288" width="2.9" height="27.2" rx="0" fill="#fff" stroke="#1a1a1a" stroke-width="1"/>
<line x1="477.1" y1="288" x2="477.1" y2="315.2" stroke="#1a1a1a" stroke-width="1.2"/>
<path d="M385.6,306.5 V321.6 H406.5 V314.2" fill="none" stroke="#1a1a1a" stroke-width="1" />
<rect x="396.6" y="304.3" width="20.1" height="9.9" rx="0" fill="#fff" stroke="#1a1a1a" stroke-width="1"/>
<text x="406.8" y="312.9" font-size="10.5" text-anchor="middle" opacity="0.99" >PS1</text>
<path d="M411.8,316.5 L413.3,321.5" fill="none" stroke="#1a1a1a" stroke-width="0.8" />
<path d="M411.6,320.6 L416.2,323.2 L412.6,324 L416.6,326.6" fill="none" stroke="#1a1a1a" stroke-width="1.3" stroke-linejoin="round"/>
<circle cx="405.6" cy="262.3" r="2" fill="#fff" stroke="#1a1a1a" stroke-width="0.9"/>
<path d="M405.6,264.3 V287.5 H423.2 M408.4,287.5 V297.5 M418.3,287.5 V297.5" fill="none" stroke="#1a1a1a" stroke-width="1" />
<text x="417.3" y="283" font-size="16.5" text-anchor="middle" opacity="0.99" >30</text>
<path d="M432.6,264.8 V281.6 H452.4 M452.4,273.7 V288.5" fill="none" stroke="#1a1a1a" stroke-width="1" />
<rect x="442.9" y="263.8" width="19.9" height="9.9" rx="0" fill="#fff" stroke="#1a1a1a" stroke-width="1"/>
<text x="453" y="272.4" font-size="10.5" text-anchor="middle" opacity="0.99" >PS3</text>
<path d="M458.6,276.5 L460.2,282" fill="none" stroke="#1a1a1a" stroke-width="0.8" />
<path d="M458.6,281 L463.2,283.6 L459.6,284.4 L463.6,287" fill="none" stroke="#1a1a1a" stroke-width="1.3" stroke-linejoin="round"/>
<line x1="289.7" y1="69.3" x2="541.6" y2="69.3" stroke="#1a1a1a" stroke-width="1"/>
<line x1="289.7" y1="69.3" x2="289.7" y2="72.7" stroke="#1a1a1a" stroke-width="1"/>
<line x1="345" y1="79.3" x2="541.6" y2="79.3" stroke="#1a1a1a" stroke-width="1"/>
<line x1="541.6" y1="69.3" x2="541.6" y2="147.6" stroke="#1a1a1a" stroke-width="1"/>
<line x1="457.9" y1="147.6" x2="551.5" y2="147.6" stroke="#1a1a1a" stroke-width="1"/>
<line x1="468" y1="157.4" x2="551.5" y2="157.4" stroke="#1a1a1a" stroke-width="1"/>
<rect x="540.4" y="157.4" width="10.4" height="62.2" rx="0" fill="none" stroke="#1a1a1a" stroke-width="0.9"/>
<line x1="468" y1="219.6" x2="551.5" y2="219.6" stroke="#1a1a1a" stroke-width="1"/>
<line x1="457" y1="230" x2="551.5" y2="230" stroke="#1a1a1a" stroke-width="1"/>
<line x1="541.6" y1="230" x2="541.6" y2="302.5" stroke="#1a1a1a" stroke-width="1"/>
<line x1="468" y1="147.6" x2="468" y2="219.6" stroke="#1a1a1a" stroke-width="1"/>
<line x1="457.9" y1="142.8" x2="457.9" y2="230" stroke="#1a1a1a" stroke-width="1"/>
<line x1="272" y1="103.3" x2="284.5" y2="103.3" stroke="#1a1a1a" stroke-width="1"/>
<line x1="272" y1="113" x2="284.5" y2="113" stroke="#1a1a1a" stroke-width="1"/>
<line x1="289.7" y1="147.7" x2="358.7" y2="147.7" stroke="#1a1a1a" stroke-width="1"/>
<line x1="289.7" y1="157" x2="358.7" y2="157" stroke="#1a1a1a" stroke-width="1"/>
<line x1="299.6" y1="131.9" x2="299.6" y2="147.7" stroke="#1a1a1a" stroke-width="1"/>
<line x1="329" y1="131.9" x2="329" y2="147.7" stroke="#1a1a1a" stroke-width="1"/>
<line x1="339" y1="131.9" x2="339" y2="147.7" stroke="#1a1a1a" stroke-width="1"/>
<line x1="289.7" y1="131.9" x2="289.7" y2="147.7" stroke="#1a1a1a" stroke-width="1"/>
<line x1="272" y1="220.6" x2="299.6" y2="220.6" stroke="#1a1a1a" stroke-width="1"/>
<line x1="272" y1="229.5" x2="312.4" y2="229.5" stroke="#1a1a1a" stroke-width="1"/>
<line x1="317.3" y1="230" x2="357.7" y2="230" stroke="#1a1a1a" stroke-width="1"/>
<line x1="357.7" y1="120" x2="357.7" y2="229.5" stroke="#1a1a1a" stroke-width="1"/>
<line x1="359.7" y1="120" x2="359.7" y2="142.8" stroke="#1a1a1a" stroke-width="1"/>
<rect x="340.3" y="162.8" width="8.5" height="53.5" rx="0" fill="#fff" stroke="#1a1a1a" stroke-width="1"/>
<line x1="343.8" y1="162.8" x2="343.8" y2="216.3" stroke="#1a1a1a" stroke-width="1.6"/>
<line x1="346.3" y1="162.8" x2="346.3" y2="216.3" stroke="#1a1a1a" stroke-width="0.7"/>
<line x1="348.8" y1="174.3" x2="357.7" y2="174.3" stroke="#1a1a1a" stroke-width="1"/>
<line x1="348.8" y1="204.9" x2="357.7" y2="204.9" stroke="#1a1a1a" stroke-width="1"/>
<rect x="284.3" y="72.7" width="60.6" height="59.2" rx="0" fill="#fff" stroke="#1a1a1a" stroke-width="1.1"/>
<path d="M288.2,85.49999999999999 V76.19999999999999 H299.6" fill="none" stroke="#1a1a1a" stroke-width="1.3" />
<path d="M288.2,84.29999999999998 L296.6,76.19999999999999" fill="none" stroke="#1a1a1a" stroke-width="1.9" />
<path d="M284.3,85.49999999999999 H288.2 M299.6,72.69999999999999 V76.19999999999999" fill="none" stroke="#1a1a1a" stroke-width="1" />
<path d="M341.00000000000006,85.49999999999999 V76.19999999999999 H329.6" fill="none" stroke="#1a1a1a" stroke-width="1.3" />
<path d="M341.00000000000006,84.29999999999998 L332.6,76.19999999999999" fill="none" stroke="#1a1a1a" stroke-width="1.9" />
<path d="M344.90000000000003,85.49999999999999 H341.00000000000006 M329.6,72.69999999999999 V76.19999999999999" fill="none" stroke="#1a1a1a" stroke-width="1" />
<path d="M288.2,119.10000000000001 V128.4 H299.6" fill="none" stroke="#1a1a1a" stroke-width="1.3" />
<path d="M288.2,120.30000000000001 L296.6,128.4" fill="none" stroke="#1a1a1a" stroke-width="1.9" />
<path d="M284.3,119.10000000000001 H288.2 M299.6,131.9 V128.4" fill="none" stroke="#1a1a1a" stroke-width="1" />
<path d="M341.00000000000006,119.10000000000001 V128.4 H329.6" fill="none" stroke="#1a1a1a" stroke-width="1.3" />
<path d="M341.00000000000006,120.30000000000001 L332.6,128.4" fill="none" stroke="#1a1a1a" stroke-width="1.9" />
<path d="M344.90000000000003,119.10000000000001 H341.00000000000006 M329.6,131.9 V128.4" fill="none" stroke="#1a1a1a" stroke-width="1" />
<circle cx="314.6" cy="102.4" r="30" fill="#fff" stroke="#1a1a1a" stroke-width="1.3"/>
<rect x="306.5" y="46.1" width="15.7" height="7.5" rx="0" fill="#fff" stroke="#1a1a1a" stroke-width="1.1"/>
<line x1="306.5" y1="47.2" x2="322.2" y2="47.2" stroke="#1a1a1a" stroke-width="2.2"/>
<rect x="311.6" y="53.6" width="6.0" height="3.4" rx="0" fill="#fff" stroke="#1a1a1a" stroke-width="1"/>
<rect x="311.6" y="57" width="6.0" height="2.8" rx="0" fill="#222" stroke="#1a1a1a" stroke-width="1"/>
<line x1="305.2" y1="58.2" x2="312" y2="58.2" stroke="#1a1a1a" stroke-width="1.7"/>
<rect x="311.6" y="60" width="6.0" height="2.5" rx="0" fill="#fff" stroke="#1a1a1a" stroke-width="1"/>
<rect x="312.4" y="62.5" width="3.9" height="10.0" rx="0" fill="#fff" stroke="#1a1a1a" stroke-width="1"/>
<g transform="translate(0,0.9)">
<rect x="290.8" y="91.3" width="3.6" height="22.4" rx="1.8" fill="#fff" stroke="#1a1a1a" stroke-width="1.1"/>
<rect x="294.4" y="95" width="2.0" height="15" rx="0" fill="#111" stroke="#1a1a1a" stroke-width="0.8"/>
<rect x="296.4" y="95.7" width="6.1" height="13.4" rx="0" fill="#fff" stroke="#1a1a1a" stroke-width="1"/>
<path d="M302.5,97 L305.5,99 V105.5 L302.5,107.5 Z" fill="#555" stroke="#1a1a1a" stroke-width="0.9" />
<path d="M309.5,93 H320 L324.2,97.5 V106 L320,110.3 H309.5 L305.5,106 V97.5 Z" fill="#fff" stroke="#1a1a1a" stroke-width="1.3" />
<circle cx="309.6" cy="97.3" r="1.3" fill="#fff" stroke="#1a1a1a" stroke-width="1"/>
<circle cx="319.4" cy="97.3" r="1.3" fill="#fff" stroke="#1a1a1a" stroke-width="1"/>
<circle cx="309.6" cy="106.8" r="1.3" fill="#fff" stroke="#1a1a1a" stroke-width="1"/>
<circle cx="319.4" cy="106.8" r="1.3" fill="#fff" stroke="#1a1a1a" stroke-width="1"/>
</g>
<path d="M312,246 V104 A2.7,2.7 0 0 1 317.4,104 V246" fill="#fff" stroke="#1a1a1a" stroke-width="1" />
<rect x="304.5" y="156" width="19.7" height="6.4" rx="2.5" fill="#fff" stroke="#1a1a1a" stroke-width="1.1"/>
<line x1="306" y1="158.4" x2="322.6" y2="158.4" stroke="#1a1a1a" stroke-width="1.3"/>
<line x1="306" y1="160.2" x2="322.6" y2="160.2" stroke="#1a1a1a" stroke-width="0.7"/>
<path d="M312,246 V252 Q312.3,258.6 318.5,258.6 H382.5" fill="none" stroke="#1a1a1a" stroke-width="1" />
<path d="M317.4,246 V251 Q317.5,254 320.5,254 H380" fill="none" stroke="#1a1a1a" stroke-width="1" />
<rect x="342.5" y="246.2" width="2.7" height="20.1" rx="0" fill="#fff" stroke="#1a1a1a" stroke-width="0.9"/>
<rect x="346.2" y="246.2" width="2.7" height="20.1" rx="0" fill="#fff" stroke="#1a1a1a" stroke-width="0.9"/>
<line x1="345.7" y1="246.2" x2="345.7" y2="266.3" stroke="#1a1a1a" stroke-width="1.1"/>
<rect x="344.6" y="100.4" width="6.9" height="5.2" rx="0" fill="#fff" stroke="#1a1a1a" stroke-width="1"/>
<rect x="351.5" y="93.3" width="2.8" height="18.7" rx="0" fill="#eee" stroke="#1a1a1a" stroke-width="0.9"/>
<rect x="354.3" y="93.3" width="1.7" height="18.7" rx="0" fill="#222" stroke="#1a1a1a" stroke-width="0.7"/>
<rect x="356" y="94" width="2.2" height="17.3" rx="0" fill="#fff" stroke="#1a1a1a" stroke-width="0.8"/>
<path d="M358.8,93.6 H362.5 Q366.5,95 368.3,97.8 V107 Q366.5,109.8 362.5,110.8 H358.8 Z" fill="#1c1c1c" stroke="#1a1a1a" stroke-width="1" />
<ellipse cx="364.6" cy="102.4" rx="2.6" ry="5.6" fill="#8a8a8a" stroke="none"/>
<path d="M363.4,98 V106.8 M364.8,97.3 V107.5 M366.2,98 V106.8" fill="none" stroke="#222" stroke-width="0.6" />
<path d="M368.3,98 L373.7,96.5 V108.5 L368.3,107 Z" fill="#fff" stroke="#1a1a1a" stroke-width="0.9" />
<line x1="368.3" y1="100.8" x2="380" y2="100.8" stroke="#1a1a1a" stroke-width="0.9"/>
<line x1="368.3" y1="104.7" x2="380" y2="104.7" stroke="#1a1a1a" stroke-width="0.9"/>
<rect x="373.7" y="92.7" width="3.4" height="19.2" rx="0" fill="#fff" stroke="#1a1a1a" stroke-width="1"/>
<rect x="393.7" y="69.3" width="38.1" height="19.2" rx="0" fill="#fff" stroke="#1a1a1a" stroke-width="1"/>
<rect x="409" y="69.3" width="7" height="1.7" rx="0" fill="#fff" stroke="#1a1a1a" stroke-width="0.8"/>
<path d="M401,70.9 H427 Q430.4,70.9 430.4,73.9 Q430.4,76.9 427,76.9 Q424,76.9 423,75.4 H405 Q404,76.9 401,76.9 Q397.6,76.9 397.6,73.9 Q397.6,70.9 401,70.9 Z" fill="#fff" stroke="#1a1a1a" stroke-width="1.7" />
<circle cx="400.8" cy="73.9" r="1.3" fill="#fff" stroke="#1a1a1a" stroke-width="0.9"/>
<circle cx="427.2" cy="73.9" r="1.3" fill="#fff" stroke="#1a1a1a" stroke-width="0.9"/>
<line x1="404" y1="73" x2="424" y2="73" stroke="#1a1a1a" stroke-width="0.9"/>
<rect x="428.3" y="85.3" width="2.3" height="2.3" rx="0" fill="#fff" stroke="#1a1a1a" stroke-width="0.9"/>
<line x1="415" y1="88.2" x2="494.2" y2="88.2" stroke="#1a1a1a" stroke-width="1"/>
<line x1="412" y1="97.4" x2="494.2" y2="97.4" stroke="#1a1a1a" stroke-width="0.9"/>
<line x1="449.2" y1="104.8" x2="494.2" y2="104.8" stroke="#1a1a1a" stroke-width="0.9"/>
<circle cx="456.4" cy="97.4" r="1.9" fill="#fff" stroke="#1a1a1a" stroke-width="0.9"/>
<circle cx="475" cy="97.4" r="1.9" fill="#fff" stroke="#1a1a1a" stroke-width="0.9"/>
<rect x="494.2" y="78.4" width="3.7" height="37.5" rx="0" fill="#fff" stroke="#1a1a1a" stroke-width="1.1"/>
<line x1="496" y1="78.4" x2="496" y2="115.9" stroke="#777" stroke-width="0.6"/>
<path d="M433.6,120 V106.3 L440.2,89.5 L449.2,106.3 V120" fill="#fff" stroke="#1a1a1a" stroke-width="1.1" />
<rect x="376.6" y="112" width="17.7" height="8" rx="0" fill="#fff" stroke="#1a1a1a" stroke-width="1"/>
<path d="M426.3,76.5 V104 Q426.3,116 416.8,116.8 M400.5,76.5 V104 Q400.5,116 410.2,116.8" fill="none" stroke="#1a1a1a" stroke-width="1.3" />
<path d="M422.2,76.5 V103 Q422.2,111.5 416.8,113 M404.6,76.5 V103 Q404.6,111.5 410.2,113" fill="none" stroke="#1a1a1a" stroke-width="1.3" />
<path d="M398.6,112.5 Q396.8,118 399.6,118.6 Q401.6,118.6 401.2,116.4 M428.2,112.5 Q430,118 427.2,118.6 Q425.2,118.6 425.6,116.4" fill="none" stroke="#1a1a1a" stroke-width="1" />
<line x1="414" y1="104.7" x2="433.5" y2="104.7" stroke="#1a1a1a" stroke-width="0.9"/>
<path d="M410,139.4 V110.5 Q410,107.3 413.5,107.3 Q417,107.3 417,110.5 V139.4 Z" fill="#fff" stroke="#1a1a1a" stroke-width="1.5" />
<path d="M410.5,111.3 H416.5" fill="none" stroke="#1a1a1a" stroke-width="1.8" />
<path d="M411.5,125 V139 M415.5,125 V139 M410,124.6 H417 M410,129.8 H417 M411.5,135 H415.5" fill="none" stroke="#1a1a1a" stroke-width="1.1" />
<path d="M411.6,117 L413.5,123 L415.4,117" fill="none" stroke="#1a1a1a" stroke-width="0.9" />
<rect x="360.8" y="120" width="49.2" height="23.2" rx="0" fill="#fff" stroke="#1a1a1a" stroke-width="1.2"/>
<rect x="417" y="120" width="49.5" height="23.2" rx="0" fill="#fff" stroke="#1a1a1a" stroke-width="1.2"/>
<line x1="360.8" y1="125.7" x2="410" y2="125.7" stroke="#555" stroke-width="0.8"/>
<line x1="417" y1="125.7" x2="466.5" y2="125.7" stroke="#555" stroke-width="0.8"/>
<path d="M382.3,131.3 L385,128.60000000000002 L387.7,131.3 L385,134.0 Z" fill="#fff" stroke="#1a1a1a" stroke-width="1" />
<rect x="383.7" y="114.5" width="2.6" height="3.5" rx="0" fill="#1a1a1a" stroke="#1a1a1a" stroke-width="0.8"/>
<line x1="382.4" y1="119" x2="387.6" y2="119" stroke="#1a1a1a" stroke-width="1.5"/>
<path d="M438.6,131.3 L441.3,128.60000000000002 L444.0,131.3 L441.3,134.0 Z" fill="#fff" stroke="#1a1a1a" stroke-width="1" />
<rect x="440.0" y="114.5" width="2.6" height="3.5" rx="0" fill="#1a1a1a" stroke="#1a1a1a" stroke-width="0.8"/>
<line x1="438.7" y1="119" x2="443.90000000000003" y2="119" stroke="#1a1a1a" stroke-width="1.5"/>
<circle cx="358.9" cy="131.3" r="1.3" fill="#fff" stroke="#1a1a1a" stroke-width="0.8"/>
<circle cx="468.3" cy="131.3" r="1.3" fill="#fff" stroke="#1a1a1a" stroke-width="0.8"/>
<line x1="366.7" y1="150" x2="459.4" y2="150" stroke="#1a1a1a" stroke-width="1"/>
<line x1="366.7" y1="144.3" x2="366.7" y2="230" stroke="#1a1a1a" stroke-width="1"/>
<line x1="459.4" y1="144.3" x2="459.4" y2="230" stroke="#1a1a1a" stroke-width="1"/>
<circle cx="413" cy="152.7" r="2" fill="#fff" stroke="#1a1a1a" stroke-width="0.9"/>
<line x1="407.1" y1="149.7" x2="407.1" y2="178" stroke="#1a1a1a" stroke-width="0.9"/>
<line x1="418.2" y1="149.7" x2="418.2" y2="178" stroke="#1a1a1a" stroke-width="0.9"/>
<line x1="401.6" y1="178" x2="425" y2="178" stroke="#1a1a1a" stroke-width="0.9"/>
<rect x="403.3" y="157" width="2.9" height="8" rx="0" fill="#fff" stroke="#1a1a1a" stroke-width="0.9"/>
<rect x="419" y="157" width="2.9" height="8" rx="0" fill="#fff" stroke="#1a1a1a" stroke-width="0.9"/>
<line x1="408.6" y1="230.5" x2="408.6" y2="254" stroke="#1a1a1a" stroke-width="0.9"/>
<line x1="418.6" y1="230.5" x2="418.6" y2="254" stroke="#1a1a1a" stroke-width="0.9"/>
<circle cx="413" cy="225.5" r="2.2" fill="#fff" stroke="#1a1a1a" stroke-width="0.9"/>
<rect x="369.3" y="150" width="3.0" height="67.5" rx="0" fill="#fff" stroke="#1a1a1a" stroke-width="1.2"/>
<rect x="397.7" y="150" width="3.0" height="67.5" rx="0" fill="#fff" stroke="#1a1a1a" stroke-width="1.2"/>
<line x1="369.3" y1="150" x2="400.7" y2="150" stroke="#1a1a1a" stroke-width="1.1"/>
<rect x="373.4" y="151.5" width="4.0" height="9.5" rx="0" fill="#fff" stroke="#1a1a1a" stroke-width="1.2"/>
<rect x="392.6" y="151.5" width="4.0" height="9.5" rx="0" fill="#fff" stroke="#1a1a1a" stroke-width="1.2"/>
<line x1="373.4" y1="156" x2="377.4" y2="156" stroke="#1a1a1a" stroke-width="0.8"/>
<line x1="392.6" y1="156" x2="396.6" y2="156" stroke="#1a1a1a" stroke-width="0.8"/>
<path d="M376.5,143.2 L379.7,160.6 H390.3 L393.4,143.2 Z" fill="#fff" stroke="#1a1a1a" stroke-width="1.5" />
<line x1="384.8" y1="143.5" x2="384.8" y2="160.6" stroke="#888" stroke-width="0.9"/>
<rect x="372.3" y="160.6" width="25.3" height="54.1" rx="2.6" fill="#fff" stroke="#1a1a1a" stroke-width="1.2"/>
<line x1="378" y1="198" x2="378" y2="214" stroke="#1a1a1a" stroke-width="0.8"/>
<line x1="392" y1="198" x2="392" y2="214" stroke="#1a1a1a" stroke-width="0.8"/>
<circle cx="385" cy="189" r="10.2" fill="#fff" stroke="#1a1a1a" stroke-width="1.1"/>
<circle cx="379.8" cy="183.8" r="1.2" fill="#fff" stroke="#1a1a1a" stroke-width="0.8"/>
<circle cx="390.2" cy="183.8" r="1.2" fill="#fff" stroke="#1a1a1a" stroke-width="0.8"/>
<circle cx="379.8" cy="194.2" r="1.2" fill="#fff" stroke="#1a1a1a" stroke-width="0.8"/>
<circle cx="390.2" cy="194.2" r="1.2" fill="#fff" stroke="#1a1a1a" stroke-width="0.8"/>
<path d="M381.5,215 V190 A3.5,3.5 0 0 1 388.5,190 V215" fill="#fff" stroke="#1a1a1a" stroke-width="1.1" />
<circle cx="385" cy="163.6" r="1.2" fill="#fff" stroke="#1a1a1a" stroke-width="0.9"/>
<circle cx="375.4" cy="171.4" r="1.2" fill="#fff" stroke="#1a1a1a" stroke-width="0.9"/>
<circle cx="394.6" cy="171.4" r="1.2" fill="#fff" stroke="#1a1a1a" stroke-width="0.9"/>
<circle cx="375.4" cy="183.2" r="1.2" fill="#fff" stroke="#1a1a1a" stroke-width="0.9"/>
<circle cx="394.6" cy="183.2" r="1.2" fill="#fff" stroke="#1a1a1a" stroke-width="0.9"/>
<circle cx="375.4" cy="196" r="1.2" fill="#fff" stroke="#1a1a1a" stroke-width="0.9"/>
<circle cx="394.6" cy="196" r="1.2" fill="#fff" stroke="#1a1a1a" stroke-width="0.9"/>
<circle cx="375.4" cy="208.8" r="1.2" fill="#fff" stroke="#1a1a1a" stroke-width="0.9"/>
<circle cx="394.6" cy="208.8" r="1.2" fill="#fff" stroke="#1a1a1a" stroke-width="0.9"/>
<rect x="374.4" y="215.7" width="21.2" height="2.5" rx="1" fill="#333" stroke="#1a1a1a" stroke-width="1"/>
<rect x="374.4" y="218.2" width="21.2" height="2.4" rx="1" fill="#fff" stroke="#1a1a1a" stroke-width="1"/>
<line x1="378" y1="221.5" x2="392" y2="221.5" stroke="#1a1a1a" stroke-width="1"/>
<rect x="369" y="222.2" width="32.3" height="14.6" rx="1.5" fill="#fff" stroke="#1a1a1a" stroke-width="1.1"/>
<line x1="369" y1="227" x2="401.3" y2="227" stroke="#1a1a1a" stroke-width="0.9"/>
<line x1="369" y1="232.4" x2="401.3" y2="232.4" stroke="#1a1a1a" stroke-width="0.9"/>
<path d="M382.7,229.3 L385,227.0 L387.3,229.3 L385,231.60000000000002 Z" fill="#fff" stroke="#1a1a1a" stroke-width="1" />
<rect x="368" y="228.5" width="1" height="2.5" rx="0" fill="#1a1a1a" stroke="#1a1a1a" stroke-width="0.8"/>
<rect x="401.3" y="228.5" width="1.0" height="2.5" rx="0" fill="#1a1a1a" stroke="#1a1a1a" stroke-width="0.8"/>
<rect x="383" y="236.8" width="4" height="1.2" rx="0" fill="#1a1a1a" stroke="#1a1a1a" stroke-width="0.8"/>
<rect x="371" y="238" width="28" height="2.8" rx="1" fill="#fff" stroke="#1a1a1a" stroke-width="1"/>
<rect x="371" y="241.5" width="28" height="2.8" rx="1" fill="#fff" stroke="#1a1a1a" stroke-width="1"/>
<line x1="374" y1="241.2" x2="396" y2="241.2" stroke="#1a1a1a" stroke-width="1.6"/>
<rect x="370.4" y="239.5" width="1.4" height="3.5" rx="0" fill="#1a1a1a" stroke="#1a1a1a" stroke-width="0.7"/>
<rect x="398.2" y="239.5" width="1.4" height="3.5" rx="0" fill="#1a1a1a" stroke="#1a1a1a" stroke-width="0.7"/>
<rect x="425.90000000000003" y="150" width="3.0" height="67.5" rx="0" fill="#fff" stroke="#1a1a1a" stroke-width="1.2"/>
<rect x="454.3" y="150" width="3.0" height="67.5" rx="0" fill="#fff" stroke="#1a1a1a" stroke-width="1.2"/>
<line x1="425.90000000000003" y1="150" x2="457.3" y2="150" stroke="#1a1a1a" stroke-width="1.1"/>
<rect x="430.0" y="151.5" width="4.0" height="9.5" rx="0" fill="#fff" stroke="#1a1a1a" stroke-width="1.2"/>
<rect x="449.20000000000005" y="151.5" width="4.0" height="9.5" rx="0" fill="#fff" stroke="#1a1a1a" stroke-width="1.2"/>
<line x1="430.0" y1="156" x2="434.0" y2="156" stroke="#1a1a1a" stroke-width="0.8"/>
<line x1="449.20000000000005" y1="156" x2="453.20000000000005" y2="156" stroke="#1a1a1a" stroke-width="0.8"/>
<path d="M433.1,143.2 L436.3,160.6 H446.90000000000003 L450.0,143.2 Z" fill="#fff" stroke="#1a1a1a" stroke-width="1.5" />
<line x1="441.40000000000003" y1="143.5" x2="441.40000000000003" y2="160.6" stroke="#888" stroke-width="0.9"/>
<rect x="428.90000000000003" y="160.6" width="25.3" height="54.1" rx="2.6" fill="#fff" stroke="#1a1a1a" stroke-width="1.2"/>
<line x1="434.6" y1="198" x2="434.6" y2="214" stroke="#1a1a1a" stroke-width="0.8"/>
<line x1="448.6" y1="198" x2="448.6" y2="214" stroke="#1a1a1a" stroke-width="0.8"/>
<circle cx="441.6" cy="189" r="10.2" fill="#fff" stroke="#1a1a1a" stroke-width="1.1"/>
<circle cx="436.40000000000003" cy="183.8" r="1.2" fill="#fff" stroke="#1a1a1a" stroke-width="0.8"/>
<circle cx="446.8" cy="183.8" r="1.2" fill="#fff" stroke="#1a1a1a" stroke-width="0.8"/>
<circle cx="436.40000000000003" cy="194.2" r="1.2" fill="#fff" stroke="#1a1a1a" stroke-width="0.8"/>
<circle cx="446.8" cy="194.2" r="1.2" fill="#fff" stroke="#1a1a1a" stroke-width="0.8"/>
<path d="M438.1,215 V190 A3.5,3.5 0 0 1 445.1,190 V215" fill="#fff" stroke="#1a1a1a" stroke-width="1.1" />
<circle cx="441.6" cy="163.6" r="1.2" fill="#fff" stroke="#1a1a1a" stroke-width="0.9"/>
<circle cx="432.0" cy="171.4" r="1.2" fill="#fff" stroke="#1a1a1a" stroke-width="0.9"/>
<circle cx="451.20000000000005" cy="171.4" r="1.2" fill="#fff" stroke="#1a1a1a" stroke-width="0.9"/>
<circle cx="432.0" cy="183.2" r="1.2" fill="#fff" stroke="#1a1a1a" stroke-width="0.9"/>
<circle cx="451.20000000000005" cy="183.2" r="1.2" fill="#fff" stroke="#1a1a1a" stroke-width="0.9"/>
<circle cx="432.0" cy="196" r="1.2" fill="#fff" stroke="#1a1a1a" stroke-width="0.9"/>
<circle cx="451.20000000000005" cy="196" r="1.2" fill="#fff" stroke="#1a1a1a" stroke-width="0.9"/>
<circle cx="432.0" cy="208.8" r="1.2" fill="#fff" stroke="#1a1a1a" stroke-width="0.9"/>
<circle cx="451.20000000000005" cy="208.8" r="1.2" fill="#fff" stroke="#1a1a1a" stroke-width="0.9"/>
<rect x="431.0" y="215.7" width="21.2" height="2.5" rx="1" fill="#333" stroke="#1a1a1a" stroke-width="1"/>
<rect x="431.0" y="218.2" width="21.2" height="2.4" rx="1" fill="#fff" stroke="#1a1a1a" stroke-width="1"/>
<line x1="434.6" y1="221.5" x2="448.6" y2="221.5" stroke="#1a1a1a" stroke-width="1"/>
<rect x="425.6" y="222.2" width="32.3" height="14.6" rx="1.5" fill="#fff" stroke="#1a1a1a" stroke-width="1.1"/>
<line x1="425.6" y1="227" x2="457.90000000000003" y2="227" stroke="#1a1a1a" stroke-width="0.9"/>
<line x1="425.6" y1="232.4" x2="457.90000000000003" y2="232.4" stroke="#1a1a1a" stroke-width="0.9"/>
<path d="M439.3,229.3 L441.6,227.0 L443.90000000000003,229.3 L441.6,231.60000000000002 Z" fill="#fff" stroke="#1a1a1a" stroke-width="1" />
<rect x="424.6" y="228.5" width="1.0" height="2.5" rx="0" fill="#1a1a1a" stroke="#1a1a1a" stroke-width="0.8"/>
<rect x="457.90000000000003" y="228.5" width="1.0" height="2.5" rx="0" fill="#1a1a1a" stroke="#1a1a1a" stroke-width="0.8"/>
<rect x="439.6" y="236.8" width="4.0" height="1.2" rx="0" fill="#1a1a1a" stroke="#1a1a1a" stroke-width="0.8"/>
<rect x="427.6" y="238" width="28.0" height="2.8" rx="1" fill="#fff" stroke="#1a1a1a" stroke-width="1"/>
<rect x="427.6" y="241.5" width="28.0" height="2.8" rx="1" fill="#fff" stroke="#1a1a1a" stroke-width="1"/>
<line x1="430.6" y1="241.2" x2="452.6" y2="241.2" stroke="#1a1a1a" stroke-width="1.6"/>
<rect x="427.0" y="239.5" width="1.4" height="3.5" rx="0" fill="#1a1a1a" stroke="#1a1a1a" stroke-width="0.7"/>
<rect x="454.8" y="239.5" width="1.4" height="3.5" rx="0" fill="#1a1a1a" stroke="#1a1a1a" stroke-width="0.7"/>
<circle cx="361.6" cy="161.5" r="2.3" fill="#333" stroke="#1a1a1a" stroke-width="1.2"/>
<circle cx="361.6" cy="161.5" r="0.8" fill="#bbb" stroke="#1a1a1a" stroke-width="0.5"/>
<circle cx="463.3" cy="161.5" r="2.3" fill="#333" stroke="#1a1a1a" stroke-width="1.2"/>
<circle cx="463.3" cy="161.5" r="0.8" fill="#bbb" stroke="#1a1a1a" stroke-width="0.5"/>
<line x1="358" y1="158.9" x2="366.7" y2="158.9" stroke="#1a1a1a" stroke-width="0.8"/>
<line x1="358" y1="164.1" x2="366.7" y2="164.1" stroke="#1a1a1a" stroke-width="0.8"/>
<line x1="459.4" y1="158.9" x2="468" y2="158.9" stroke="#1a1a1a" stroke-width="0.8"/>
<line x1="459.4" y1="164.1" x2="468" y2="164.1" stroke="#1a1a1a" stroke-width="0.8"/>
<circle cx="361.6" cy="175" r="2.3" fill="#333" stroke="#1a1a1a" stroke-width="1.2"/>
<circle cx="361.6" cy="175" r="0.8" fill="#bbb" stroke="#1a1a1a" stroke-width="0.5"/>
<circle cx="463.3" cy="175" r="2.3" fill="#333" stroke="#1a1a1a" stroke-width="1.2"/>
<circle cx="463.3" cy="175" r="0.8" fill="#bbb" stroke="#1a1a1a" stroke-width="0.5"/>
<line x1="358" y1="172.4" x2="366.7" y2="172.4" stroke="#1a1a1a" stroke-width="0.8"/>
<line x1="358" y1="177.6" x2="366.7" y2="177.6" stroke="#1a1a1a" stroke-width="0.8"/>
<line x1="459.4" y1="172.4" x2="468" y2="172.4" stroke="#1a1a1a" stroke-width="0.8"/>
<line x1="459.4" y1="177.6" x2="468" y2="177.6" stroke="#1a1a1a" stroke-width="0.8"/>
<line x1="468" y1="174" x2="487.4" y2="174" stroke="#1a1a1a" stroke-width="0.9"/>
<line x1="468" y1="205" x2="487.4" y2="205" stroke="#1a1a1a" stroke-width="0.9"/>
<rect x="380.3" y="244.3" width="8.1" height="9.7" rx="0" fill="#fff" stroke="#1a1a1a" stroke-width="1"/>
<line x1="384.3" y1="244.3" x2="384.3" y2="254" stroke="#1a1a1a" stroke-width="0.7"/>
<line x1="317.4" y1="254" x2="439.7" y2="254" stroke="#1a1a1a" stroke-width="1"/>
<line x1="318.5" y1="258.5" x2="437.7" y2="258.5" stroke="#1a1a1a" stroke-width="1"/>
<path d="M436.7,244.3 V252 Q436.5,254 434,254 M444.2,244.3 V252 Q443.5,258.5 437.7,258.5 M440.4,244.3 V253" fill="none" stroke="#1a1a1a" stroke-width="1" />
<path d="M382.5,258.5 Q386,264.5 392.4,265 H442.9" fill="none" stroke="#1a1a1a" stroke-width="1" />
<line x1="392.4" y1="258.5" x2="392.4" y2="265" stroke="#1a1a1a" stroke-width="1"/>
<line x1="357.7" y1="230.5" x2="369" y2="230.5" stroke="#1a1a1a" stroke-width="1"/>
<line x1="401.6" y1="230.5" x2="425.5" y2="230.5" stroke="#1a1a1a" stroke-width="1"/>
<rect x="487.4" y="163.3" width="4.4" height="53.4" rx="0" fill="#fff" stroke="#1a1a1a" stroke-width="1"/>
<rect x="510" y="163.3" width="4.4" height="53.4" rx="0" fill="#fff" stroke="#1a1a1a" stroke-width="1"/>
<line x1="491.8" y1="170.2" x2="510" y2="170.2" stroke="#1a1a1a" stroke-width="1"/>
<line x1="491.8" y1="211.2" x2="510" y2="211.2" stroke="#1a1a1a" stroke-width="1"/>
<line x1="496.3" y1="211.2" x2="496.3" y2="219.6" stroke="#1a1a1a" stroke-width="1"/>
<line x1="506.2" y1="211.2" x2="506.2" y2="219.6" stroke="#1a1a1a" stroke-width="1"/>
<line x1="496.9" y1="230" x2="496.9" y2="236" stroke="#1a1a1a" stroke-width="1"/>
<line x1="505.6" y1="230" x2="505.6" y2="237" stroke="#1a1a1a" stroke-width="1"/>
<line x1="444.2" y1="254.9" x2="474.8" y2="254.9" stroke="#1a1a1a" stroke-width="1"/>
<line x1="462.8" y1="264.3" x2="474.8" y2="264.3" stroke="#1a1a1a" stroke-width="1"/>
<rect x="478" y="241.6" width="2.4" height="29.2" rx="0" fill="#aaa" stroke="#1a1a1a" stroke-width="0.8"/>
<rect x="474.8" y="246.3" width="3.2" height="27.7" rx="0" fill="#fff" stroke="#1a1a1a" stroke-width="1.1"/>
<rect x="484.2" y="235.3" width="12.7" height="11.7" rx="0" fill="#fff" stroke="#1a1a1a" stroke-width="1"/>
<rect x="480.4" y="256" width="3.6" height="8" rx="0" fill="#fff" stroke="#1a1a1a" stroke-width="0.8"/>
<rect x="483.5" y="247.1" width="3.1" height="28.5" rx="0" fill="#999" stroke="#1a1a1a" stroke-width="0.9"/>
<rect x="486.6" y="247.1" width="3.5" height="28.5" rx="0" fill="#fff" stroke="#1a1a1a" stroke-width="0.9"/>
<line x1="488.2" y1="247.1" x2="488.2" y2="275.6" stroke="#1a1a1a" stroke-width="1.5"/>
<rect x="490.1" y="252" width="4.4" height="16" rx="0" fill="#fff" stroke="#1a1a1a" stroke-width="0.9"/>
<rect x="491.6" y="256" width="2.9" height="8" rx="0" fill="#bbb" stroke="#1a1a1a" stroke-width="0.8"/>
<rect x="502.4" y="236.9" width="7.1" height="3.6" rx="0" fill="#fff" stroke="#1a1a1a" stroke-width="0.9"/>
<rect x="503" y="235.2" width="6" height="1.8" rx="0" fill="#1a1a1a" stroke="#1a1a1a" stroke-width="0.8"/>
<rect x="494.5" y="240.2" width="19.0" height="40.1" rx="1" fill="#fff" stroke="#1a1a1a" stroke-width="1.3"/>
<line x1="500" y1="240.2" x2="500" y2="280.3" stroke="#1a1a1a" stroke-width="0.9"/>
<line x1="511" y1="241" x2="511" y2="279.8" stroke="#555" stroke-width="0.7"/>
<path d="M501.2,260.6 L503.7,258.1 L506.2,260.6 L503.7,263.1 Z" fill="#fff" stroke="#1a1a1a" stroke-width="1.1" />
<rect x="500.8" y="280.3" width="5.7" height="1.5" rx="0" fill="#fff" stroke="#1a1a1a" stroke-width="0.8"/>
<rect x="513.5" y="252.7" width="3.2" height="15.0" rx="0" fill="#fff" stroke="#1a1a1a" stroke-width="0.8"/>
<rect x="516.7" y="247.1" width="3.9" height="26.9" rx="0" fill="#fff" stroke="#1a1a1a" stroke-width="1"/>
<line x1="518.4" y1="247.1" x2="518.4" y2="274" stroke="#555" stroke-width="1.1"/>
<rect x="520.6" y="254" width="3.4" height="12" rx="0" fill="#fff" stroke="#1a1a1a" stroke-width="0.8"/>
<circle cx="397.8" cy="95.3" r="17.8" fill="#fff" stroke="#1a1a1a" stroke-width="1.2"/>
<text x="398.1" y="103.39999999999999" font-size="24.3" text-anchor="middle" opacity="0.99" textLength="27.4" lengthAdjust="spacingAndGlyphs" stroke="#000" stroke-width="0.25">N5</text>
<circle cx="518" cy="100" r="17.8" fill="#fff" stroke="#1a1a1a" stroke-width="1.2"/>
<text x="518.3" y="108.1" font-size="24.3" text-anchor="middle" opacity="0.99" textLength="27.4" lengthAdjust="spacingAndGlyphs" stroke="#000" stroke-width="0.25">N4</text>
<circle cx="535.4" cy="191.4" r="17.8" fill="#fff" stroke="#1a1a1a" stroke-width="1.2"/>
<text x="535.6999999999999" y="199.5" font-size="24.3" text-anchor="middle" opacity="0.99" textLength="27.4" lengthAdjust="spacingAndGlyphs" stroke="#000" stroke-width="0.25">N6</text>
<circle cx="539.2" cy="260" r="17.8" fill="#fff" stroke="#1a1a1a" stroke-width="1.2"/>
<text x="539.5" y="268.1" font-size="24.3" text-anchor="middle" opacity="0.99" textLength="27.4" lengthAdjust="spacingAndGlyphs" stroke="#000" stroke-width="0.25">N3</text>
<g style="mix-blend-mode:multiply">
<g transform="translate(-204,-8.7) rotate(-30)" fill="#d8d8d8" stroke="none">
<g fill="none" stroke="#d8d8d8" stroke-width="1.05" stroke-linecap="round">
<path d="M2,-12.5 H16 M9,-17 L4.5,-7.5 H15 M10,-10 V1.5 L8,0.5 M6,-4.5 L3,0 M13,-4.5 L16.5,0"/>
<g transform="translate(24,0)"><path d="M3,-13 H15 M1.5,-8 H16.5 M9,-17 V2.5 M5.5,-12 L6.5,-9 M12.5,-12 L11.5,-9 M9,-8 L1.5,0 M9,-8 L16.5,0"/></g>
<g transform="translate(48,0)"><path d="M2,-14 L4,-11.5 M1.5,-2 L4.5,-7.5 M11,-17 L7,-9.5 H15.5 L13.5,-12.5 M7,-6 H15.5 V1.5 H7 Z"/></g>
<g transform="translate(72,0)"><path d="M9,-17 L1.5,-9.5 M9,-17 L16.5,-9.5 M5,-10 H13 M3.5,-5.5 H14.5 M9,-10 V1.5 M1.5,1.5 H16.5 M5,-3.5 L6,-1 M13,-3.5 L12,-1"/></g>
</g>
<text x="96.5" y="0" font-size="20" text-anchor="start" textLength="70.5" lengthAdjust="spacingAndGlyphs">DongLai</text>
<text x="175.5" y="0" font-size="20" text-anchor="start" textLength="107" lengthAdjust="spacingAndGlyphs">Metallurgical</text>
</g>
<g transform="translate(-204,169.3) rotate(-30)" fill="#d8d8d8" stroke="none">
<g fill="none" stroke="#d8d8d8" stroke-width="1.05" stroke-linecap="round">
<path d="M2,-12.5 H16 M9,-17 L4.5,-7.5 H15 M10,-10 V1.5 L8,0.5 M6,-4.5 L3,0 M13,-4.5 L16.5,0"/>
<g transform="translate(24,0)"><path d="M3,-13 H15 M1.5,-8 H16.5 M9,-17 V2.5 M5.5,-12 L6.5,-9 M12.5,-12 L11.5,-9 M9,-8 L1.5,0 M9,-8 L16.5,0"/></g>
<g transform="translate(48,0)"><path d="M2,-14 L4,-11.5 M1.5,-2 L4.5,-7.5 M11,-17 L7,-9.5 H15.5 L13.5,-12.5 M7,-6 H15.5 V1.5 H7 Z"/></g>
<g transform="translate(72,0)"><path d="M9,-17 L1.5,-9.5 M9,-17 L16.5,-9.5 M5,-10 H13 M3.5,-5.5 H14.5 M9,-10 V1.5 M1.5,1.5 H16.5 M5,-3.5 L6,-1 M13,-3.5 L12,-1"/></g>
</g>
<text x="96.5" y="0" font-size="20" text-anchor="start" textLength="70.5" lengthAdjust="spacingAndGlyphs">DongLai</text>
<text x="175.5" y="0" font-size="20" text-anchor="start" textLength="107" lengthAdjust="spacingAndGlyphs">Metallurgical</text>
</g>
<g transform="translate(-204,347.3) rotate(-30)" fill="#d8d8d8" stroke="none">
<g fill="none" stroke="#d8d8d8" stroke-width="1.05" stroke-linecap="round">
<path d="M2,-12.5 H16 M9,-17 L4.5,-7.5 H15 M10,-10 V1.5 L8,0.5 M6,-4.5 L3,0 M13,-4.5 L16.5,0"/>
<g transform="translate(24,0)"><path d="M3,-13 H15 M1.5,-8 H16.5 M9,-17 V2.5 M5.5,-12 L6.5,-9 M12.5,-12 L11.5,-9 M9,-8 L1.5,0 M9,-8 L16.5,0"/></g>
<g transform="translate(48,0)"><path d="M2,-14 L4,-11.5 M1.5,-2 L4.5,-7.5 M11,-17 L7,-9.5 H15.5 L13.5,-12.5 M7,-6 H15.5 V1.5 H7 Z"/></g>
<g transform="translate(72,0)"><path d="M9,-17 L1.5,-9.5 M9,-17 L16.5,-9.5 M5,-10 H13 M3.5,-5.5 H14.5 M9,-10 V1.5 M1.5,1.5 H16.5 M5,-3.5 L6,-1 M13,-3.5 L12,-1"/></g>
</g>
<text x="96.5" y="0" font-size="20" text-anchor="start" textLength="70.5" lengthAdjust="spacingAndGlyphs">DongLai</text>
<text x="175.5" y="0" font-size="20" text-anchor="start" textLength="107" lengthAdjust="spacingAndGlyphs">Metallurgical</text>
</g>
<g transform="translate(107.2,-8.7) rotate(-30)" fill="#d8d8d8" stroke="none">
<g fill="none" stroke="#d8d8d8" stroke-width="1.05" stroke-linecap="round">
<path d="M2,-12.5 H16 M9,-17 L4.5,-7.5 H15 M10,-10 V1.5 L8,0.5 M6,-4.5 L3,0 M13,-4.5 L16.5,0"/>
<g transform="translate(24,0)"><path d="M3,-13 H15 M1.5,-8 H16.5 M9,-17 V2.5 M5.5,-12 L6.5,-9 M12.5,-12 L11.5,-9 M9,-8 L1.5,0 M9,-8 L16.5,0"/></g>
<g transform="translate(48,0)"><path d="M2,-14 L4,-11.5 M1.5,-2 L4.5,-7.5 M11,-17 L7,-9.5 H15.5 L13.5,-12.5 M7,-6 H15.5 V1.5 H7 Z"/></g>
<g transform="translate(72,0)"><path d="M9,-17 L1.5,-9.5 M9,-17 L16.5,-9.5 M5,-10 H13 M3.5,-5.5 H14.5 M9,-10 V1.5 M1.5,1.5 H16.5 M5,-3.5 L6,-1 M13,-3.5 L12,-1"/></g>
</g>
<text x="96.5" y="0" font-size="20" text-anchor="start" textLength="70.5" lengthAdjust="spacingAndGlyphs">DongLai</text>
<text x="175.5" y="0" font-size="20" text-anchor="start" textLength="107" lengthAdjust="spacingAndGlyphs">Metallurgical</text>
</g>
<g transform="translate(107.2,169.3) rotate(-30)" fill="#d8d8d8" stroke="none">
<g fill="none" stroke="#d8d8d8" stroke-width="1.05" stroke-linecap="round">
<path d="M2,-12.5 H16 M9,-17 L4.5,-7.5 H15 M10,-10 V1.5 L8,0.5 M6,-4.5 L3,0 M13,-4.5 L16.5,0"/>
<g transform="translate(24,0)"><path d="M3,-13 H15 M1.5,-8 H16.5 M9,-17 V2.5 M5.5,-12 L6.5,-9 M12.5,-12 L11.5,-9 M9,-8 L1.5,0 M9,-8 L16.5,0"/></g>
<g transform="translate(48,0)"><path d="M2,-14 L4,-11.5 M1.5,-2 L4.5,-7.5 M11,-17 L7,-9.5 H15.5 L13.5,-12.5 M7,-6 H15.5 V1.5 H7 Z"/></g>
<g transform="translate(72,0)"><path d="M9,-17 L1.5,-9.5 M9,-17 L16.5,-9.5 M5,-10 H13 M3.5,-5.5 H14.5 M9,-10 V1.5 M1.5,1.5 H16.5 M5,-3.5 L6,-1 M13,-3.5 L12,-1"/></g>
</g>
<text x="96.5" y="0" font-size="20" text-anchor="start" textLength="70.5" lengthAdjust="spacingAndGlyphs">DongLai</text>
<text x="175.5" y="0" font-size="20" text-anchor="start" textLength="107" lengthAdjust="spacingAndGlyphs">Metallurgical</text>
</g>
<g transform="translate(107.2,347.3) rotate(-30)" fill="#d8d8d8" stroke="none">
<g fill="none" stroke="#d8d8d8" stroke-width="1.05" stroke-linecap="round">
<path d="M2,-12.5 H16 M9,-17 L4.5,-7.5 H15 M10,-10 V1.5 L8,0.5 M6,-4.5 L3,0 M13,-4.5 L16.5,0"/>
<g transform="translate(24,0)"><path d="M3,-13 H15 M1.5,-8 H16.5 M9,-17 V2.5 M5.5,-12 L6.5,-9 M12.5,-12 L11.5,-9 M9,-8 L1.5,0 M9,-8 L16.5,0"/></g>
<g transform="translate(48,0)"><path d="M2,-14 L4,-11.5 M1.5,-2 L4.5,-7.5 M11,-17 L7,-9.5 H15.5 L13.5,-12.5 M7,-6 H15.5 V1.5 H7 Z"/></g>
<g transform="translate(72,0)"><path d="M9,-17 L1.5,-9.5 M9,-17 L16.5,-9.5 M5,-10 H13 M3.5,-5.5 H14.5 M9,-10 V1.5 M1.5,1.5 H16.5 M5,-3.5 L6,-1 M13,-3.5 L12,-1"/></g>
</g>
<text x="96.5" y="0" font-size="20" text-anchor="start" textLength="70.5" lengthAdjust="spacingAndGlyphs">DongLai</text>
<text x="175.5" y="0" font-size="20" text-anchor="start" textLength="107" lengthAdjust="spacingAndGlyphs">Metallurgical</text>
</g>
<g transform="translate(422,-8.7) rotate(-30)" fill="#d8d8d8" stroke="none">
<g fill="none" stroke="#d8d8d8" stroke-width="1.05" stroke-linecap="round">
<path d="M2,-12.5 H16 M9,-17 L4.5,-7.5 H15 M10,-10 V1.5 L8,0.5 M6,-4.5 L3,0 M13,-4.5 L16.5,0"/>
<g transform="translate(24,0)"><path d="M3,-13 H15 M1.5,-8 H16.5 M9,-17 V2.5 M5.5,-12 L6.5,-9 M12.5,-12 L11.5,-9 M9,-8 L1.5,0 M9,-8 L16.5,0"/></g>
<g transform="translate(48,0)"><path d="M2,-14 L4,-11.5 M1.5,-2 L4.5,-7.5 M11,-17 L7,-9.5 H15.5 L13.5,-12.5 M7,-6 H15.5 V1.5 H7 Z"/></g>
<g transform="translate(72,0)"><path d="M9,-17 L1.5,-9.5 M9,-17 L16.5,-9.5 M5,-10 H13 M3.5,-5.5 H14.5 M9,-10 V1.5 M1.5,1.5 H16.5 M5,-3.5 L6,-1 M13,-3.5 L12,-1"/></g>
</g>
<text x="96.5" y="0" font-size="20" text-anchor="start" textLength="70.5" lengthAdjust="spacingAndGlyphs">DongLai</text>
<text x="175.5" y="0" font-size="20" text-anchor="start" textLength="107" lengthAdjust="spacingAndGlyphs">Metallurgical</text>
</g>
<g transform="translate(422,169.3) rotate(-30)" fill="#d8d8d8" stroke="none">
<g fill="none" stroke="#d8d8d8" stroke-width="1.05" stroke-linecap="round">
<path d="M2,-12.5 H16 M9,-17 L4.5,-7.5 H15 M10,-10 V1.5 L8,0.5 M6,-4.5 L3,0 M13,-4.5 L16.5,0"/>
<g transform="translate(24,0)"><path d="M3,-13 H15 M1.5,-8 H16.5 M9,-17 V2.5 M5.5,-12 L6.5,-9 M12.5,-12 L11.5,-9 M9,-8 L1.5,0 M9,-8 L16.5,0"/></g>
<g transform="translate(48,0)"><path d="M2,-14 L4,-11.5 M1.5,-2 L4.5,-7.5 M11,-17 L7,-9.5 H15.5 L13.5,-12.5 M7,-6 H15.5 V1.5 H7 Z"/></g>
<g transform="translate(72,0)"><path d="M9,-17 L1.5,-9.5 M9,-17 L16.5,-9.5 M5,-10 H13 M3.5,-5.5 H14.5 M9,-10 V1.5 M1.5,1.5 H16.5 M5,-3.5 L6,-1 M13,-3.5 L12,-1"/></g>
</g>
<text x="96.5" y="0" font-size="20" text-anchor="start" textLength="70.5" lengthAdjust="spacingAndGlyphs">DongLai</text>
<text x="175.5" y="0" font-size="20" text-anchor="start" textLength="107" lengthAdjust="spacingAndGlyphs">Metallurgical</text>
</g>
<g transform="translate(422,347.3) rotate(-30)" fill="#d8d8d8" stroke="none">
<g fill="none" stroke="#d8d8d8" stroke-width="1.05" stroke-linecap="round">
<path d="M2,-12.5 H16 M9,-17 L4.5,-7.5 H15 M10,-10 V1.5 L8,0.5 M6,-4.5 L3,0 M13,-4.5 L16.5,0"/>
<g transform="translate(24,0)"><path d="M3,-13 H15 M1.5,-8 H16.5 M9,-17 V2.5 M5.5,-12 L6.5,-9 M12.5,-12 L11.5,-9 M9,-8 L1.5,0 M9,-8 L16.5,0"/></g>
<g transform="translate(48,0)"><path d="M2,-14 L4,-11.5 M1.5,-2 L4.5,-7.5 M11,-17 L7,-9.5 H15.5 L13.5,-12.5 M7,-6 H15.5 V1.5 H7 Z"/></g>
<g transform="translate(72,0)"><path d="M9,-17 L1.5,-9.5 M9,-17 L16.5,-9.5 M5,-10 H13 M3.5,-5.5 H14.5 M9,-10 V1.5 M1.5,1.5 H16.5 M5,-3.5 L6,-1 M13,-3.5 L12,-1"/></g>
</g>
<text x="96.5" y="0" font-size="20" text-anchor="start" textLength="70.5" lengthAdjust="spacingAndGlyphs">DongLai</text>
<text x="175.5" y="0" font-size="20" text-anchor="start" textLength="107" lengthAdjust="spacingAndGlyphs">Metallurgical</text>
</g>
<g transform="translate(-204,520.3) rotate(-30)" fill="#d8d8d8" stroke="none">
<g fill="none" stroke="#d8d8d8" stroke-width="1.05" stroke-linecap="round">
<path d="M2,-12.5 H16 M9,-17 L4.5,-7.5 H15 M10,-10 V1.5 L8,0.5 M6,-4.5 L3,0 M13,-4.5 L16.5,0"/>
<g transform="translate(24,0)"><path d="M3,-13 H15 M1.5,-8 H16.5 M9,-17 V2.5 M5.5,-12 L6.5,-9 M12.5,-12 L11.5,-9 M9,-8 L1.5,0 M9,-8 L16.5,0"/></g>
<g transform="translate(48,0)"><path d="M2,-14 L4,-11.5 M1.5,-2 L4.5,-7.5 M11,-17 L7,-9.5 H15.5 L13.5,-12.5 M7,-6 H15.5 V1.5 H7 Z"/></g>
<g transform="translate(72,0)"><path d="M9,-17 L1.5,-9.5 M9,-17 L16.5,-9.5 M5,-10 H13 M3.5,-5.5 H14.5 M9,-10 V1.5 M1.5,1.5 H16.5 M5,-3.5 L6,-1 M13,-3.5 L12,-1"/></g>
</g>
<text x="96.5" y="0" font-size="20" text-anchor="start" textLength="70.5" lengthAdjust="spacingAndGlyphs">DongLai</text>
<text x="175.5" y="0" font-size="20" text-anchor="start" textLength="107" lengthAdjust="spacingAndGlyphs">Metallurgical</text>
</g>
<g transform="translate(111.5,520.3) rotate(-30)" fill="#d8d8d8" stroke="none">
<g fill="none" stroke="#d8d8d8" stroke-width="1.05" stroke-linecap="round">
<path d="M2,-12.5 H16 M9,-17 L4.5,-7.5 H15 M10,-10 V1.5 L8,0.5 M6,-4.5 L3,0 M13,-4.5 L16.5,0"/>
<g transform="translate(24,0)"><path d="M3,-13 H15 M1.5,-8 H16.5 M9,-17 V2.5 M5.5,-12 L6.5,-9 M12.5,-12 L11.5,-9 M9,-8 L1.5,0 M9,-8 L16.5,0"/></g>
<g transform="translate(48,0)"><path d="M2,-14 L4,-11.5 M1.5,-2 L4.5,-7.5 M11,-17 L7,-9.5 H15.5 L13.5,-12.5 M7,-6 H15.5 V1.5 H7 Z"/></g>
<g transform="translate(72,0)"><path d="M9,-17 L1.5,-9.5 M9,-17 L16.5,-9.5 M5,-10 H13 M3.5,-5.5 H14.5 M9,-10 V1.5 M1.5,1.5 H16.5 M5,-3.5 L6,-1 M13,-3.5 L12,-1"/></g>
</g>
<text x="96.5" y="0" font-size="20" text-anchor="start" textLength="70.5" lengthAdjust="spacingAndGlyphs">DongLai</text>
<text x="175.5" y="0" font-size="20" text-anchor="start" textLength="107" lengthAdjust="spacingAndGlyphs">Metallurgical</text>
</g>
<g transform="translate(426,520.3) rotate(-30)" fill="#d8d8d8" stroke="none">
<g fill="none" stroke="#d8d8d8" stroke-width="1.05" stroke-linecap="round">
<path d="M2,-12.5 H16 M9,-17 L4.5,-7.5 H15 M10,-10 V1.5 L8,0.5 M6,-4.5 L3,0 M13,-4.5 L16.5,0"/>
<g transform="translate(24,0)"><path d="M3,-13 H15 M1.5,-8 H16.5 M9,-17 V2.5 M5.5,-12 L6.5,-9 M12.5,-12 L11.5,-9 M9,-8 L1.5,0 M9,-8 L16.5,0"/></g>
<g transform="translate(48,0)"><path d="M2,-14 L4,-11.5 M1.5,-2 L4.5,-7.5 M11,-17 L7,-9.5 H15.5 L13.5,-12.5 M7,-6 H15.5 V1.5 H7 Z"/></g>
<g transform="translate(72,0)"><path d="M9,-17 L1.5,-9.5 M9,-17 L16.5,-9.5 M5,-10 H13 M3.5,-5.5 H14.5 M9,-10 V1.5 M1.5,1.5 H16.5 M5,-3.5 L6,-1 M13,-3.5 L12,-1"/></g>
</g>
<text x="96.5" y="0" font-size="20" text-anchor="start" textLength="70.5" lengthAdjust="spacingAndGlyphs">DongLai</text>
<text x="175.5" y="0" font-size="20" text-anchor="start" textLength="107" lengthAdjust="spacingAndGlyphs">Metallurgical</text>
</g>
</g>
</svg>
</body></html>
